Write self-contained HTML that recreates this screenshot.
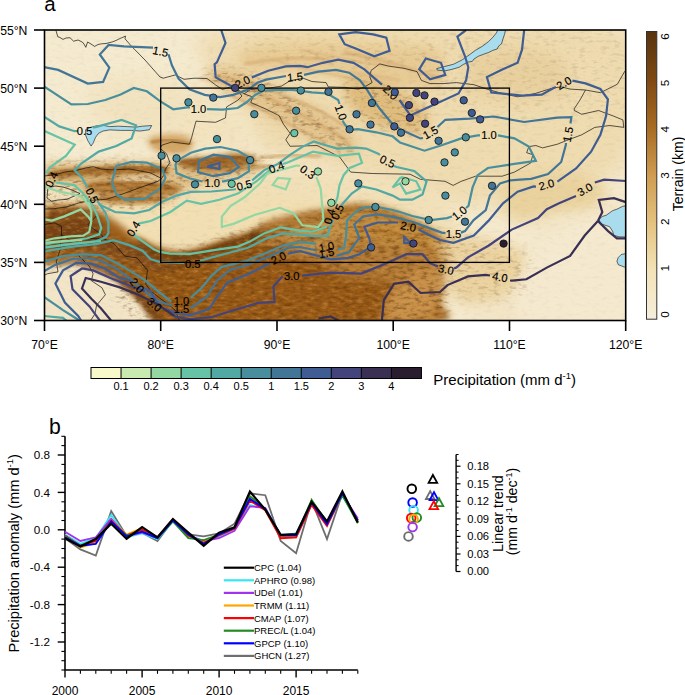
<!DOCTYPE html>
<html><head><meta charset="utf-8"><style>html,body{margin:0;padding:0;background:#fff;}svg{display:block;}</style></head>
<body><svg width="685" height="695" viewBox="0 0 685 695">
<rect width="685" height="695" fill="#fff"/>
<clipPath id="mc"><rect x="44.5" y="30.0" width="581.2" height="290.5"/></clipPath>
<defs><filter id="b1_2" x="-20%" y="-20%" width="140%" height="140%"><feGaussianBlur stdDeviation="1.2"/></filter><filter id="b1_5" x="-20%" y="-20%" width="140%" height="140%"><feGaussianBlur stdDeviation="1.5"/></filter><filter id="b2_5" x="-20%" y="-20%" width="140%" height="140%"><feGaussianBlur stdDeviation="2.5"/></filter><filter id="b3" x="-20%" y="-20%" width="140%" height="140%"><feGaussianBlur stdDeviation="3"/></filter><filter id="b3_5" x="-20%" y="-20%" width="140%" height="140%"><feGaussianBlur stdDeviation="3.5"/></filter><filter id="b4" x="-20%" y="-20%" width="140%" height="140%"><feGaussianBlur stdDeviation="4"/></filter><filter id="b5" x="-20%" y="-20%" width="140%" height="140%"><feGaussianBlur stdDeviation="5"/></filter><filter id="b6" x="-20%" y="-20%" width="140%" height="140%"><feGaussianBlur stdDeviation="6"/></filter><filter id="b7" x="-20%" y="-20%" width="140%" height="140%"><feGaussianBlur stdDeviation="7"/></filter><filter id="b8" x="-20%" y="-20%" width="140%" height="140%"><feGaussianBlur stdDeviation="8"/></filter><filter id="b10" x="-20%" y="-20%" width="140%" height="140%"><feGaussianBlur stdDeviation="10"/></filter><filter id="b12" x="-20%" y="-20%" width="140%" height="140%"><feGaussianBlur stdDeviation="12"/></filter><filter id="tex" x="0" y="0" width="100%" height="100%" color-interpolation-filters="sRGB"><feTurbulence type="fractalNoise" baseFrequency="0.14 0.3" numOctaves="3" seed="11" result="n"/><feColorMatrix in="n" type="matrix" values="0 0 0 0 0.36  0 0 0 0 0.20  0 0 0 0 0.04  1.7 0 0 0 -0.84" result="dk"/><feColorMatrix in="n" type="matrix" values="0 0 0 0 0.86  0 0 0 0 0.66  0 0 0 0 0.36  -1.4 0 0 0 0.63" result="lt"/><feMerge result="m"><feMergeNode in="lt"/><feMergeNode in="dk"/></feMerge><feComposite in="m" in2="SourceGraphic" operator="in"/></filter></defs>
<g clip-path="url(#mc)">
<rect x="44.5" y="30.0" width="581.2" height="290.5" fill="#f5ebd0"/>
<path d="M225.0,30.0 C291.3,20.8 559.2,8.3 626.0,30.0 C692.8,51.7 632.0,135.0 626.0,160.0 C620.0,185.0 603.5,174.2 590.0,180.0 C576.5,185.8 560.0,190.8 545.0,195.0 C530.0,199.2 515.0,203.3 500.0,205.0 C485.0,206.7 470.0,207.2 455.0,205.0 C440.0,202.8 424.2,196.2 410.0,192.0 C395.8,187.8 383.3,183.7 370.0,180.0 C356.7,176.3 343.3,173.3 330.0,170.0 C316.7,166.7 301.3,163.3 290.0,160.0 C278.7,156.7 269.5,156.7 262.0,150.0 C254.5,143.3 250.7,130.8 245.0,120.0 C239.3,109.2 231.3,100.0 228.0,85.0 C224.7,70.0 158.7,39.2 225.0,30.0 Z" fill="#efdcb1" fill-opacity="1" filter="url(#b10)"/>
<path d="M90.0,85.0 C100.0,77.5 140.0,79.2 160.0,80.0 C180.0,80.8 198.3,83.3 210.0,90.0 C221.7,96.7 231.7,111.7 230.0,120.0 C228.3,128.3 213.3,136.7 200.0,140.0 C186.7,143.3 166.7,142.5 150.0,140.0 C133.3,137.5 110.0,134.2 100.0,125.0 C90.0,115.8 80.0,92.5 90.0,85.0 Z" fill="#f2e3c0" fill-opacity="1" filter="url(#b12)"/>
<path d="M100.0,185.0 C109.2,175.0 138.3,177.2 160.0,175.0 C181.7,172.8 206.7,172.8 230.0,172.0 C253.3,171.2 278.3,169.0 300.0,170.0 C321.7,171.0 340.0,174.7 360.0,178.0 C380.0,181.3 405.0,184.7 420.0,190.0 C435.0,195.3 444.2,201.7 450.0,210.0 C455.8,218.3 460.0,233.3 455.0,240.0 C450.0,246.7 440.8,250.0 420.0,250.0 C399.2,250.0 358.3,240.0 330.0,240.0 C301.7,240.0 280.0,248.3 250.0,250.0 C220.0,251.7 174.2,252.5 150.0,250.0 C125.8,247.5 113.3,245.8 105.0,235.0 C96.7,224.2 90.8,195.0 100.0,185.0 Z" fill="#f1e0b8" fill-opacity="1" filter="url(#b8)"/>
<path d="M104.0,206.0 C104.3,204.5 104.3,204.2 112.0,203.0 C119.7,201.8 135.3,200.0 150.0,199.0 C164.7,198.0 183.3,196.8 200.0,197.0 C216.7,197.2 235.0,199.8 250.0,200.0 C265.0,200.2 278.3,197.3 290.0,198.0 C301.7,198.7 318.3,201.2 320.0,204.0 C321.7,206.8 307.5,212.2 300.0,215.0 C292.5,217.8 283.0,218.8 275.0,221.0 C267.0,223.2 259.8,225.8 252.0,228.0 C244.2,230.2 236.7,231.3 228.0,234.0 C219.3,236.7 208.7,241.8 200.0,244.0 C191.3,246.2 183.5,247.2 176.0,247.0 C168.5,246.8 161.7,245.2 155.0,243.0 C148.3,240.8 141.5,237.5 136.0,234.0 C130.5,230.5 126.3,225.7 122.0,222.0 C117.7,218.3 113.0,214.7 110.0,212.0 C107.0,209.3 103.7,207.5 104.0,206.0 Z" fill="#f2e0b4" fill-opacity="1" filter="url(#b5)"/>
<path d="M180.0,110.0 C187.2,106.2 204.2,102.5 215.0,105.0 C225.8,107.5 239.2,117.8 245.0,125.0 C250.8,132.2 254.2,143.8 250.0,148.0 C245.8,152.2 230.8,150.5 220.0,150.0 C209.2,149.5 193.0,148.7 185.0,145.0 C177.0,141.3 172.8,133.8 172.0,128.0 C171.2,122.2 172.8,113.8 180.0,110.0 Z" fill="#f3e4c0" fill-opacity="1" filter="url(#b8)"/>
<path d="M255.0,38.0 C261.3,34.3 282.5,34.3 300.0,34.0 C317.5,33.7 340.0,34.3 360.0,36.0 C380.0,37.7 408.3,40.3 420.0,44.0 C431.7,47.7 433.3,54.3 430.0,58.0 C426.7,61.7 413.3,64.7 400.0,66.0 C386.7,67.3 366.7,66.3 350.0,66.0 C333.3,65.7 314.7,65.7 300.0,64.0 C285.3,62.3 269.5,60.3 262.0,56.0 C254.5,51.7 248.7,41.7 255.0,38.0 Z" fill="#ecd6a4" fill-opacity="0.9" filter="url(#b8)"/>
<path d="M240.0,52.0 C246.7,48.0 273.3,47.3 290.0,46.0 C306.7,44.7 323.3,44.0 340.0,44.0 C356.7,44.0 373.3,44.7 390.0,46.0 C406.7,47.3 431.7,45.3 440.0,52.0 C448.3,58.7 446.7,80.0 440.0,86.0 C433.3,92.0 413.3,88.3 400.0,88.0 C386.7,87.7 371.7,86.0 360.0,84.0 C348.3,82.0 341.7,78.0 330.0,76.0 C318.3,74.0 303.3,73.0 290.0,72.0 C276.7,71.0 258.3,73.3 250.0,70.0 C241.7,66.7 233.3,56.0 240.0,52.0 Z" fill="#e8cc96" fill-opacity="1" filter="url(#b5)"/>
<path d="M205.0,72.0 C206.2,68.3 217.5,65.5 225.0,66.0 C232.5,66.5 241.7,71.3 250.0,75.0 C258.3,78.7 266.7,83.8 275.0,88.0 C283.3,92.2 291.7,96.0 300.0,100.0 C308.3,104.0 317.5,107.8 325.0,112.0 C332.5,116.2 339.8,120.3 345.0,125.0 C350.2,129.7 354.2,135.0 356.0,140.0 C357.8,145.0 359.5,153.0 356.0,155.0 C352.5,157.0 342.7,154.5 335.0,152.0 C327.3,149.5 318.3,144.5 310.0,140.0 C301.7,135.5 293.0,129.7 285.0,125.0 C277.0,120.3 269.5,116.2 262.0,112.0 C254.5,107.8 247.3,104.0 240.0,100.0 C232.7,96.0 223.8,92.7 218.0,88.0 C212.2,83.3 203.8,75.7 205.0,72.0 Z" fill="#e4c690" fill-opacity="1" filter="url(#b6)"/>
<path d="M470.0,55.0 C478.3,48.0 505.0,47.2 520.0,48.0 C535.0,48.8 551.7,53.8 560.0,60.0 C568.3,66.2 573.3,78.3 570.0,85.0 C566.7,91.7 551.7,97.5 540.0,100.0 C528.3,102.5 511.7,101.7 500.0,100.0 C488.3,98.3 475.0,97.5 470.0,90.0 C465.0,82.5 461.7,62.0 470.0,55.0 Z" fill="#e9d1a0" fill-opacity="1" filter="url(#b8)"/>
<path d="M345.0,82.0 C350.0,78.3 367.5,77.8 378.0,80.0 C388.5,82.2 399.7,89.0 408.0,95.0 C416.3,101.0 426.0,109.5 428.0,116.0 C430.0,122.5 426.0,131.7 420.0,134.0 C414.0,136.3 401.0,132.3 392.0,130.0 C383.0,127.7 373.3,124.7 366.0,120.0 C358.7,115.3 351.5,108.3 348.0,102.0 C344.5,95.7 340.0,85.7 345.0,82.0 Z" fill="#e0be80" fill-opacity="1" filter="url(#b6)"/>
<path d="M150.0,138.0 C153.8,135.7 168.0,133.7 175.0,134.0 C182.0,134.3 189.8,137.0 192.0,140.0 C194.2,143.0 192.0,149.7 188.0,152.0 C184.0,154.3 174.0,154.7 168.0,154.0 C162.0,153.3 155.0,150.7 152.0,148.0 C149.0,145.3 146.2,140.3 150.0,138.0 Z" fill="#d2a666" fill-opacity="1" filter="url(#b3)"/>
<path d="M44.0,166.0 C50.0,157.8 67.3,163.8 80.0,163.0 C92.7,162.2 106.7,161.3 120.0,161.0 C133.3,160.7 146.7,161.2 160.0,161.0 C173.3,160.8 187.5,161.2 200.0,160.0 C212.5,158.8 225.3,154.3 235.0,154.0 C244.7,153.7 253.5,155.3 258.0,158.0 C262.5,160.7 265.8,166.7 262.0,170.0 C258.2,173.3 244.5,175.7 235.0,178.0 C225.5,180.3 214.2,181.7 205.0,184.0 C195.8,186.3 186.2,189.0 180.0,192.0 C173.8,195.0 174.7,200.2 168.0,202.0 C161.3,203.8 149.7,202.8 140.0,203.0 C130.3,203.2 120.0,202.3 110.0,203.0 C100.0,203.7 91.0,205.5 80.0,207.0 C69.0,208.5 50.0,218.8 44.0,212.0 C38.0,205.2 38.0,174.2 44.0,166.0 Z" fill="#e0c28c" fill-opacity="1" filter="url(#b4)"/>
<path d="M52.0,171.0 C57.8,169.3 77.0,168.8 90.0,168.0 C103.0,167.2 117.5,166.2 130.0,166.0 C142.5,165.8 159.2,165.7 165.0,167.0 C170.8,168.3 170.8,172.5 165.0,174.0 C159.2,175.5 142.5,175.7 130.0,176.0 C117.5,176.3 102.5,175.7 90.0,176.0 C77.5,176.3 61.3,178.8 55.0,178.0 C48.7,177.2 46.2,172.7 52.0,171.0 Z" fill="#a8712f" fill-opacity="1" filter="url(#b2_5)"/>
<path d="M85.0,184.0 C88.3,181.7 107.5,180.3 120.0,180.0 C132.5,179.7 149.7,180.7 160.0,182.0 C170.3,183.3 181.2,185.7 182.0,188.0 C182.8,190.3 173.7,194.7 165.0,196.0 C156.3,197.3 140.8,196.3 130.0,196.0 C119.2,195.7 107.5,196.0 100.0,194.0 C92.5,192.0 81.7,186.3 85.0,184.0 Z" fill="#b07a38" fill-opacity="1" filter="url(#b2_5)"/>
<path d="M180.0,160.0 C184.2,158.2 200.0,158.0 210.0,157.0 C220.0,156.0 232.3,153.5 240.0,154.0 C247.7,154.5 256.0,157.7 256.0,160.0 C256.0,162.3 247.7,166.3 240.0,168.0 C232.3,169.7 219.2,170.0 210.0,170.0 C200.8,170.0 190.0,169.7 185.0,168.0 C180.0,166.3 175.8,161.8 180.0,160.0 Z" fill="#a06a2c" fill-opacity="1" filter="url(#b2_5)"/>
<path d="M100.0,196.0 C105.0,194.7 129.2,194.7 140.0,195.0 C150.8,195.3 163.3,196.7 165.0,198.0 C166.7,199.3 159.2,202.2 150.0,203.0 C140.8,203.8 118.3,204.2 110.0,203.0 C101.7,201.8 95.0,197.3 100.0,196.0 Z" fill="#b5803e" fill-opacity="1" filter="url(#b2_5)"/>
<path d="M120.0,177.0 C124.7,176.0 143.7,174.7 150.0,175.0 C156.3,175.3 159.7,178.0 158.0,179.0 C156.3,180.0 146.0,180.7 140.0,181.0 C134.0,181.3 125.3,181.7 122.0,181.0 C118.7,180.3 115.3,178.0 120.0,177.0 Z" fill="#efdcb6" fill-opacity="1" filter="url(#b3)"/>
<path d="M44.0,187.0 C47.7,184.3 59.7,185.0 66.0,186.0 C72.3,187.0 80.3,190.5 82.0,193.0 C83.7,195.5 80.3,199.3 76.0,201.0 C71.7,202.7 61.3,202.8 56.0,203.0 C50.7,203.2 46.0,204.7 44.0,202.0 C42.0,199.3 40.3,189.7 44.0,187.0 Z" fill="#f2e4c2" fill-opacity="1" filter="url(#b3)"/>
<path d="M44.0,212.0 C50.0,202.5 71.0,207.2 80.0,207.0 C89.0,206.8 93.0,209.2 98.0,211.0 C103.0,212.8 106.0,215.5 110.0,218.0 C114.0,220.5 118.3,223.2 122.0,226.0 C125.7,228.8 127.7,232.2 132.0,235.0 C136.3,237.8 143.0,240.8 148.0,243.0 C153.0,245.2 156.5,246.5 162.0,248.0 C167.5,249.5 174.5,252.0 181.0,252.0 C187.5,252.0 194.2,249.8 201.0,248.0 C207.8,246.2 215.2,243.2 222.0,241.0 C228.8,238.8 235.3,237.3 242.0,235.0 C248.7,232.7 255.5,229.5 262.0,227.0 C268.5,224.5 273.3,222.3 281.0,220.0 C288.7,217.7 299.8,214.7 308.0,213.0 C316.2,211.3 323.8,211.2 330.0,210.0 C336.2,208.8 339.2,206.8 345.0,206.0 C350.8,205.2 358.3,204.5 365.0,205.0 C371.7,205.5 378.8,207.3 385.0,209.0 C391.2,210.7 395.8,212.3 402.0,215.0 C408.2,217.7 415.3,221.2 422.0,225.0 C428.7,228.8 436.5,233.8 442.0,238.0 C447.5,242.2 455.3,244.7 455.0,250.0 C454.7,255.3 441.8,264.7 440.0,270.0 C438.2,275.3 444.3,276.7 444.0,282.0 C443.7,287.3 441.0,295.3 438.0,302.0 C435.0,308.7 473.7,318.7 426.0,322.0 C378.3,325.3 199.3,324.8 152.0,322.0 C104.7,319.2 146.0,310.7 142.0,305.0 C138.0,299.3 133.3,293.2 128.0,288.0 C122.7,282.8 116.3,277.8 110.0,274.0 C103.7,270.2 96.7,267.2 90.0,265.0 C83.3,262.8 77.7,261.2 70.0,261.0 C62.3,260.8 48.3,272.2 44.0,264.0 C39.7,255.8 38.0,221.5 44.0,212.0 Z" fill="#a0621f" fill-opacity="1" filter="url(#b3_5)"/>
<path d="M120.0,260.0 C123.3,254.5 151.7,263.3 170.0,262.0 C188.3,260.7 208.3,255.7 230.0,252.0 C251.7,248.3 280.0,241.2 300.0,240.0 C320.0,238.8 333.3,241.3 350.0,245.0 C366.7,248.7 387.5,254.5 400.0,262.0 C412.5,269.5 422.5,280.0 425.0,290.0 C427.5,300.0 457.5,316.7 415.0,322.0 C372.5,327.3 214.2,326.5 170.0,322.0 C125.8,317.5 158.3,305.3 150.0,295.0 C141.7,284.7 116.7,265.5 120.0,260.0 Z" fill="#985a19" fill-opacity="1" filter="url(#b6)"/>
<path d="M138.0,238.0 C140.5,237.3 152.8,249.5 160.0,252.0 C167.2,254.5 174.2,253.5 181.0,253.0 C187.8,252.5 194.2,250.8 201.0,249.0 C207.8,247.2 215.2,244.2 222.0,242.0 C228.8,239.8 235.3,238.3 242.0,236.0 C248.7,233.7 257.0,229.7 262.0,228.0 C267.0,226.3 270.0,225.0 272.0,226.0 C274.0,227.0 276.8,231.3 274.0,234.0 C271.2,236.7 262.7,239.2 255.0,242.0 C247.3,244.8 237.2,248.2 228.0,251.0 C218.8,253.8 208.8,256.8 200.0,259.0 C191.2,261.2 184.2,264.5 175.0,264.0 C165.8,263.5 151.2,260.3 145.0,256.0 C138.8,251.7 135.5,238.7 138.0,238.0 Z" fill="#7e4814" fill-opacity="1" filter="url(#b2_5)"/>
<path d="M262.0,226.0 C265.3,221.0 280.3,220.3 290.0,218.0 C299.7,215.7 310.0,213.3 320.0,212.0 C330.0,210.7 341.3,209.3 350.0,210.0 C358.7,210.7 367.0,211.7 372.0,216.0 C377.0,220.3 381.2,229.3 380.0,236.0 C378.8,242.7 373.3,251.7 365.0,256.0 C356.7,260.3 341.7,261.7 330.0,262.0 C318.3,262.3 305.0,260.3 295.0,258.0 C285.0,255.7 275.5,253.3 270.0,248.0 C264.5,242.7 258.7,231.0 262.0,226.0 Z" fill="#b07834" fill-opacity="1" filter="url(#b4)"/>
<path d="M292.0,228.0 C297.3,224.7 310.3,221.8 320.0,220.0 C329.7,218.2 342.0,216.3 350.0,217.0 C358.0,217.7 364.3,220.2 368.0,224.0 C371.7,227.8 373.3,235.0 372.0,240.0 C370.7,245.0 367.0,251.0 360.0,254.0 C353.0,257.0 339.7,258.3 330.0,258.0 C320.3,257.7 309.0,255.0 302.0,252.0 C295.0,249.0 289.7,244.0 288.0,240.0 C286.3,236.0 286.7,231.3 292.0,228.0 Z" fill="#c49248" fill-opacity="1" filter="url(#b5)"/>
<path d="M345.0,212.0 C348.0,206.7 360.8,207.3 370.0,208.0 C379.2,208.7 390.0,212.3 400.0,216.0 C410.0,219.7 420.8,225.0 430.0,230.0 C439.2,235.0 451.7,240.7 455.0,246.0 C458.3,251.3 455.8,259.3 450.0,262.0 C444.2,264.7 430.0,262.0 420.0,262.0 C410.0,262.0 399.2,262.3 390.0,262.0 C380.8,261.7 371.3,263.7 365.0,260.0 C358.7,256.3 355.3,248.0 352.0,240.0 C348.7,232.0 342.0,217.3 345.0,212.0 Z" fill="#c08a3e" fill-opacity="1" filter="url(#b4)"/>
<path d="M50.0,212.0 C55.0,206.0 72.0,209.3 80.0,210.0 C88.0,210.7 93.3,212.3 98.0,216.0 C102.7,219.7 105.7,228.0 108.0,232.0 C110.3,236.0 106.7,237.7 112.0,240.0 C117.3,242.3 132.0,243.3 140.0,246.0 C148.0,248.7 154.2,252.7 160.0,256.0 C165.8,259.3 175.0,263.3 175.0,266.0 C175.0,268.7 167.5,272.7 160.0,272.0 C152.5,271.3 140.0,265.0 130.0,262.0 C120.0,259.0 109.2,256.3 100.0,254.0 C90.8,251.7 83.3,249.3 75.0,248.0 C66.7,246.7 54.2,252.0 50.0,246.0 C45.8,240.0 45.0,218.0 50.0,212.0 Z" fill="#86501a" fill-opacity="1" filter="url(#b3)"/>
<path d="M44.0,228.0 C47.3,224.7 62.3,224.3 70.0,224.0 C77.7,223.7 85.0,223.3 90.0,226.0 C95.0,228.7 101.7,236.7 100.0,240.0 C98.3,243.3 88.3,245.3 80.0,246.0 C71.7,246.7 56.0,247.0 50.0,244.0 C44.0,241.0 40.7,231.3 44.0,228.0 Z" fill="#7a4515" fill-opacity="1" filter="url(#b3)"/>
<path d="M60.0,262.0 C63.8,260.7 77.5,261.0 85.0,262.0 C92.5,263.0 98.3,265.0 105.0,268.0 C111.7,271.0 119.2,276.0 125.0,280.0 C130.8,284.0 135.5,287.8 140.0,292.0 C144.5,296.2 147.8,300.0 152.0,305.0 C156.2,310.0 165.3,319.2 165.0,322.0 C164.7,324.8 154.5,324.3 150.0,322.0 C145.5,319.7 142.7,313.0 138.0,308.0 C133.3,303.0 127.5,296.7 122.0,292.0 C116.5,287.3 111.2,283.3 105.0,280.0 C98.8,276.7 92.2,273.7 85.0,272.0 C77.8,270.3 66.2,271.7 62.0,270.0 C57.8,268.3 56.2,263.3 60.0,262.0 Z" fill="#7e4a16" fill-opacity="1" filter="url(#b2_5)"/>
<path d="M320.0,245.0 C323.3,239.2 346.7,240.0 360.0,240.0 C373.3,240.0 386.7,242.5 400.0,245.0 C413.3,247.5 431.7,250.0 440.0,255.0 C448.3,260.0 453.3,270.0 450.0,275.0 C446.7,280.0 431.7,284.2 420.0,285.0 C408.3,285.8 393.3,281.7 380.0,280.0 C366.7,278.3 350.0,280.8 340.0,275.0 C330.0,269.2 316.7,250.8 320.0,245.0 Z" fill="#b27a36" fill-opacity="1" filter="url(#b6)"/>
<path d="M395.0,285.0 C402.5,276.3 421.7,270.0 430.0,270.0 C438.3,270.0 443.7,279.2 445.0,285.0 C446.3,290.8 440.8,298.8 438.0,305.0 C435.2,311.2 436.8,319.2 428.0,322.0 C419.2,324.8 390.5,328.2 385.0,322.0 C379.5,315.8 387.5,293.7 395.0,285.0 Z" fill="#c89048" fill-opacity="1" filter="url(#b6)"/>
<path d="M30.0,272.0 C34.0,261.5 47.0,268.3 54.0,267.0 C61.0,265.7 66.0,263.8 72.0,264.0 C78.0,264.2 83.7,265.8 90.0,268.0 C96.3,270.2 104.0,273.3 110.0,277.0 C116.0,280.7 121.3,285.8 126.0,290.0 C130.7,294.2 134.3,297.7 138.0,302.0 C141.7,306.3 145.7,311.3 148.0,316.0 C150.3,320.7 171.7,327.7 152.0,330.0 C132.3,332.3 50.3,339.7 30.0,330.0 C9.7,320.3 26.0,282.5 30.0,272.0 Z" fill="#f3e6c8" fill-opacity="1" filter="url(#b2_5)"/>
<path d="M440.0,235.0 C445.8,231.3 466.7,235.5 480.0,238.0 C493.3,240.5 510.8,243.8 520.0,250.0 C529.2,256.2 535.8,266.7 535.0,275.0 C534.2,283.3 525.8,295.0 515.0,300.0 C504.2,305.0 481.2,306.7 470.0,305.0 C458.8,303.3 452.2,297.5 448.0,290.0 C443.8,282.5 446.3,269.2 445.0,260.0 C443.7,250.8 434.2,238.7 440.0,235.0 Z" fill="#ecd4a2" fill-opacity="1" filter="url(#b7)"/>
<path d="M505.0,180.0 C510.8,172.8 528.3,173.3 540.0,172.0 C551.7,170.7 565.0,170.7 575.0,172.0 C585.0,173.3 594.8,176.2 600.0,180.0 C605.2,183.8 607.3,190.0 606.0,195.0 C604.7,200.0 599.7,206.5 592.0,210.0 C584.3,213.5 570.3,214.0 560.0,216.0 C549.7,218.0 539.2,222.2 530.0,222.0 C520.8,221.8 509.2,222.0 505.0,215.0 C500.8,208.0 499.2,187.2 505.0,180.0 Z" fill="#ead39f" fill-opacity="1" filter="url(#b7)"/>
<path d="M540.0,225.0 C550.8,215.3 585.7,215.3 600.0,212.0 C614.3,208.7 621.7,186.7 626.0,205.0 C630.3,223.3 652.0,302.5 626.0,322.0 C600.0,341.5 491.0,325.7 470.0,322.0 C449.0,318.3 489.2,308.7 500.0,300.0 C510.8,291.3 528.3,282.5 535.0,270.0 C541.7,257.5 529.2,234.7 540.0,225.0 Z" fill="#f3e5c6" fill-opacity="1" filter="url(#b8)"/>
<path d="M540.0,240.0 C557.7,223.8 611.7,211.3 626.0,225.0 C640.3,238.7 643.7,305.8 626.0,322.0 C608.3,338.2 534.3,335.7 520.0,322.0 C505.7,308.3 522.3,256.2 540.0,240.0 Z" fill="#f5ead0" fill-opacity="1" filter="url(#b6)"/>
<path d="M214.0,76.0 C217.5,76.7 227.7,77.3 235.0,80.0 C242.3,82.7 250.5,88.0 258.0,92.0 C265.5,96.0 273.0,100.3 280.0,104.0 C287.0,107.7 293.0,110.3 300.0,114.0 C307.0,117.7 315.0,122.0 322.0,126.0 C329.0,130.0 337.0,134.0 342.0,138.0 C347.0,142.0 350.3,148.0 352.0,150.0" fill="none" stroke="#c8955a" stroke-width="3" stroke-opacity="0.6" stroke-linecap="round" filter="url(#b1_5)"/>
<path d="M232.0,96.0 C235.8,97.7 247.3,102.3 255.0,106.0 C262.7,109.7 270.5,114.0 278.0,118.0 C285.5,122.0 292.2,126.0 300.0,130.0 C307.8,134.0 320.8,140.0 325.0,142.0" fill="none" stroke="#c8955a" stroke-width="2.5" stroke-opacity="0.55" stroke-linecap="round" filter="url(#b1_2)"/>
<path d="M250.0,82.0 C254.2,83.7 266.7,88.7 275.0,92.0 C283.3,95.3 291.7,98.3 300.0,102.0 C308.3,105.7 317.5,110.0 325.0,114.0 C332.5,118.0 341.7,124.0 345.0,126.0" fill="none" stroke="#c8955a" stroke-width="2.5" stroke-opacity="0.55" stroke-linecap="round" filter="url(#b1_2)"/>
<path d="M280.0,62.0 C285.0,63.3 300.0,67.7 310.0,70.0 C320.0,72.3 330.0,73.7 340.0,76.0 C350.0,78.3 365.0,82.7 370.0,84.0" fill="none" stroke="#d0a066" stroke-width="2" stroke-opacity="0.5" stroke-linecap="round" filter="url(#b1_2)"/>
<path d="M300.0,50.0 C305.0,51.0 320.0,54.0 330.0,56.0 C340.0,58.0 350.0,60.3 360.0,62.0 C370.0,63.7 385.0,65.3 390.0,66.0" fill="none" stroke="#d0a066" stroke-width="2" stroke-opacity="0.45" stroke-linecap="round" filter="url(#b1_2)"/>
<path d="M200.0,78.0 C203.3,78.7 213.3,80.7 220.0,82.0 C226.7,83.3 236.7,85.3 240.0,86.0" fill="none" stroke="#cfa068" stroke-width="2.5" stroke-opacity="0.5" stroke-linecap="round" filter="url(#b1_5)"/>
<path d="M245.0,64.0 C249.2,63.3 260.8,61.0 270.0,60.0 C279.2,59.0 290.0,58.0 300.0,58.0 C310.0,58.0 325.0,59.7 330.0,60.0" fill="none" stroke="#c9985a" stroke-width="2.5" stroke-opacity="0.6" stroke-linecap="round" filter="url(#b1_5)"/>
<path d="M345.0,52.0 C349.2,53.0 361.7,56.0 370.0,58.0 C378.3,60.0 386.7,61.7 395.0,64.0 C403.3,66.3 412.5,69.7 420.0,72.0 C427.5,74.3 436.7,77.0 440.0,78.0" fill="none" stroke="#c9985a" stroke-width="2.5" stroke-opacity="0.6" stroke-linecap="round" filter="url(#b1_5)"/>
<path d="M350.0,72.0 C354.2,72.7 366.7,74.7 375.0,76.0 C383.3,77.3 395.8,79.3 400.0,80.0" fill="none" stroke="#cfa064" stroke-width="2" stroke-opacity="0.5" stroke-linecap="round" filter="url(#b1_5)"/>
<path d="M50.0,174.0 C55.0,173.5 70.0,171.8 80.0,171.0 C90.0,170.2 100.0,169.5 110.0,169.0 C120.0,168.5 130.8,167.8 140.0,168.0 C149.2,168.2 160.8,169.7 165.0,170.0" fill="none" stroke="#9a6226" stroke-width="4" stroke-opacity="0.9" stroke-linecap="round" filter="url(#b1_2)"/>
<path d="M90.0,186.0 C95.0,185.5 110.0,183.3 120.0,183.0 C130.0,182.7 140.8,182.8 150.0,184.0 C159.2,185.2 170.8,189.0 175.0,190.0" fill="none" stroke="#a56c2c" stroke-width="3" stroke-opacity="0.8" stroke-linecap="round" filter="url(#b1_2)"/>
<path d="M100.0,199.0 C105.0,198.8 120.0,197.8 130.0,198.0 C140.0,198.2 155.0,199.7 160.0,200.0" fill="none" stroke="#a56c2c" stroke-width="3" stroke-opacity="0.8" stroke-linecap="round" filter="url(#b1_2)"/>
<path d="M182.0,162.0 C185.8,161.7 197.0,160.8 205.0,160.0 C213.0,159.2 222.2,157.0 230.0,157.0 C237.8,157.0 248.3,159.5 252.0,160.0" fill="none" stroke="#96602a" stroke-width="4" stroke-opacity="0.9" stroke-linecap="round" filter="url(#b1_2)"/>
<path d="M200.0,172.0 C204.2,171.7 216.7,170.7 225.0,170.0 C233.3,169.3 242.5,168.7 250.0,168.0 C257.5,167.3 266.7,166.3 270.0,166.0" fill="none" stroke="#b07a38" stroke-width="3" stroke-opacity="0.7" stroke-linecap="round" filter="url(#b1_5)"/>
<path d="M260.0,158.0 C265.0,157.5 280.0,155.3 290.0,155.0 C300.0,154.7 315.0,155.8 320.0,156.0" fill="none" stroke="#b98646" stroke-width="3" stroke-opacity="0.6" stroke-linecap="round" filter="url(#b1_5)"/>
<path d="M150.0,252.0 C155.0,252.8 170.0,257.3 180.0,257.0 C190.0,256.7 200.0,252.8 210.0,250.0 C220.0,247.2 230.3,243.0 240.0,240.0 C249.7,237.0 263.3,233.3 268.0,232.0" fill="none" stroke="#6e4010" stroke-width="3" stroke-opacity="0.8" stroke-linecap="round" filter="url(#b1_2)"/>
<path d="M268.0,232.0 C273.3,230.7 289.7,226.3 300.0,224.0 C310.3,221.7 325.0,219.0 330.0,218.0" fill="none" stroke="#9a6020" stroke-width="2.5" stroke-opacity="0.6" stroke-linecap="round" filter="url(#b1_5)"/>
<path d="M160.0,268.0 C166.7,267.3 186.7,266.0 200.0,264.0 C213.3,262.0 226.7,259.0 240.0,256.0 C253.3,253.0 266.7,249.0 280.0,246.0 C293.3,243.0 313.3,239.3 320.0,238.0" fill="none" stroke="#7a4612" stroke-width="3" stroke-opacity="0.7" stroke-linecap="round" filter="url(#b1_5)"/>
<path d="M345.0,210.0 C349.2,210.3 361.7,210.7 370.0,212.0 C378.3,213.3 386.7,215.3 395.0,218.0 C403.3,220.7 411.7,224.0 420.0,228.0 C428.3,232.0 440.8,239.7 445.0,242.0" fill="none" stroke="#a86a24" stroke-width="3" stroke-opacity="0.8" stroke-linecap="round" filter="url(#b1_5)"/>
<path d="M360.0,228.0 C364.2,228.7 376.7,230.0 385.0,232.0 C393.3,234.0 401.7,236.7 410.0,240.0 C418.3,243.3 430.8,250.0 435.0,252.0" fill="none" stroke="#a86a24" stroke-width="3" stroke-opacity="0.7" stroke-linecap="round" filter="url(#b1_5)"/>
<path d="M152.0,142.0 C155.0,141.7 163.7,139.7 170.0,140.0 C176.3,140.3 186.7,143.3 190.0,144.0" fill="none" stroke="#b07a38" stroke-width="3" stroke-opacity="0.8" stroke-linecap="round" filter="url(#b1_2)"/>
<g filter="url(#tex)">
<path d="M44.0,30.0 C141.0,-18.7 529.0,-18.7 626.0,30.0 C723.0,78.7 723.0,273.3 626.0,322.0 C529.0,370.7 141.0,370.7 44.0,322.0 C-53.0,273.3 -53.0,78.7 44.0,30.0 Z" fill="#000" fill-opacity="0.07" filter="url(#b8)"/>
<path d="M440.0,30.0 C471.0,16.7 595.0,16.7 626.0,30.0 C657.0,43.3 657.0,96.7 626.0,110.0 C595.0,123.3 471.0,123.3 440.0,110.0 C409.0,96.7 409.0,43.3 440.0,30.0 Z" fill="#000" fill-opacity="0.15" filter="url(#b10)"/>
<path d="M44.0,212.0 C50.0,202.7 68.7,204.0 80.0,208.0 C91.3,212.0 96.0,229.2 112.0,236.0 C128.0,242.8 152.2,250.7 176.0,249.0 C199.8,247.3 229.3,232.5 255.0,226.0 C280.7,219.5 311.7,213.5 330.0,210.0 C348.3,206.5 349.7,202.5 365.0,205.0 C380.3,207.5 407.0,217.5 422.0,225.0 C437.0,232.5 452.0,242.5 455.0,250.0 C458.0,257.5 444.8,258.0 440.0,270.0 C435.2,282.0 474.0,313.3 426.0,322.0 C378.0,330.7 204.7,330.0 152.0,322.0 C99.3,314.0 128.0,283.7 110.0,274.0 C92.0,264.3 55.0,274.3 44.0,264.0 C33.0,253.7 38.0,221.3 44.0,212.0 Z" fill="#000" fill-opacity="0.9" filter="url(#b4)"/>
<path d="M44.0,166.0 C63.3,157.5 124.3,162.3 160.0,161.0 C195.7,159.7 241.0,156.5 258.0,158.0 C275.0,159.5 275.0,164.3 262.0,170.0 C249.0,175.7 195.7,186.2 180.0,192.0 C164.3,197.8 190.7,201.7 168.0,205.0 C145.3,208.3 64.7,218.5 44.0,212.0 C23.3,205.5 24.7,174.5 44.0,166.0 Z" fill="#000" fill-opacity="0.8" filter="url(#b4)"/>
<path d="M208.0,68.0 C214.8,67.0 237.2,68.7 255.0,76.0 C272.8,83.3 299.2,101.0 315.0,112.0 C330.8,123.0 345.8,135.3 350.0,142.0 C354.2,148.7 354.7,157.7 340.0,152.0 C325.3,146.3 283.0,119.7 262.0,108.0 C241.0,96.3 223.0,88.7 214.0,82.0 C205.0,75.3 201.2,69.0 208.0,68.0 Z" fill="#000" fill-opacity="0.7" filter="url(#b4)"/>
<path d="M255.0,38.0 C281.3,36.0 390.8,40.7 420.0,44.0 C449.2,47.3 441.7,54.3 430.0,58.0 C418.3,61.7 378.0,66.3 350.0,66.0 C322.0,65.7 277.8,60.7 262.0,56.0 C246.2,51.3 228.7,40.0 255.0,38.0 Z" fill="#000" fill-opacity="0.2" filter="url(#b6)"/>
<path d="M345.0,82.0 C352.0,77.8 394.2,89.3 408.0,95.0 C421.8,100.7 426.0,109.5 428.0,116.0 C430.0,122.5 430.3,133.3 420.0,134.0 C409.7,134.7 378.5,128.7 366.0,120.0 C353.5,111.3 338.0,86.2 345.0,82.0 Z" fill="#000" fill-opacity="0.6" filter="url(#b6)"/>
<path d="M440.0,235.0 C452.0,228.3 504.2,243.3 520.0,250.0 C535.8,256.7 535.8,266.7 535.0,275.0 C534.2,283.3 529.5,297.5 515.0,300.0 C500.5,302.5 460.5,300.8 448.0,290.0 C435.5,279.2 428.0,241.7 440.0,235.0 Z" fill="#000" fill-opacity="0.35" filter="url(#b6)"/>
</g>
</g>
<g clip-path="url(#mc)">
<path d="M85.6,129.7 L90.0,127.5 L96.6,125.8 L103.1,125.3 L109.7,126.6 L118.4,126.2 L127.2,126.6 L136.0,127.1 L142.5,126.2 L151.7,125.5 L149.5,129.7 L140.3,131.0 L131.6,130.4 L120.6,130.4 L109.7,129.9 L103.1,131.0 L98.7,133.2 L95.5,137.4 L93.3,142.8 L91.1,146.1 L87.8,140.7 L85.6,135.2 Z" fill="#a9dcec" stroke="#111" stroke-width="0.6"/>
<path d="M436.6,68.7 L444.6,66.5 L453.4,64.3 L462.1,59.9 L469.4,54.8 L475.3,50.4 L482.6,46.1 L488.4,41.7 L492.8,37.3 L496.4,32.9 L497.9,29.7 L505.6,29.7 L504.5,34.4 L503.0,38.8 L501.5,43.9 L498.6,46.1 L497.2,49.0 L492.8,50.4 L488.4,52.6 L484.0,54.1 L478.2,56.3 L473.8,59.2 L472.3,61.4 L468.0,62.1 L463.6,64.3 L459.2,67.2 L451.9,69.4 L444.6,70.9 L437.3,70.1 Z" fill="#a9dcec" stroke="#111" stroke-width="0.6"/>
<path d="M631.0,204.8 L622.7,206.3 L616.9,209.2 L612.5,210.7 L606.6,215.0 L602.3,216.5 L598.8,219.4 L600.8,223.8 L605.2,225.3 L609.6,226.7 L612.5,231.1 L613.9,235.5 L619.8,236.9 L631.0,236.9 Z" fill="#a9dcec" stroke="#111" stroke-width="0.6"/>
<path d="M618.3,257.4 L621.2,254.5 L625.6,253.6 L631.0,254.5 L631.0,267.6 L624.2,267.0 L618.3,264.7 L616.9,261.2 Z" fill="#a9dcec" stroke="#111" stroke-width="0.6"/>
<path d="M56.0,30.6 L57.8,36.8 L60.0,37.5 L63.0,39.4 L66.0,38.0 L70.0,37.7 L73.6,41.2 L78.0,40.0 L82.3,42.0 L84.0,44.0 L85.8,47.3 L87.6,42.0 L91.0,44.0 L94.6,46.4 L98.0,44.5 L101.6,43.8 L106.0,43.5 L112.1,42.0 L116.0,40.5 L120.0,38.5 L125.5,36.1 L125.0,38.8 L131.6,46.4 L145.0,60.0 L160.0,77.0 L163.3,78.2 L175.4,74.9 L184.0,79.3 L194.0,78.2 L207.0,78.5 L215.7,85.0 L222.3,89.4 L233.2,86.1 L235.4,88.3" fill="none" stroke="#111" stroke-width="0.7" stroke-linejoin="round"/>
<path d="M235.4,88.3 L242.0,96.0 L237.6,100.4 L226.6,106.9 L225.5,117.9 L215.7,122.3 L196.0,121.2 L191.6,137.6 L189.4,144.2 L171.9,142.0 L162.2,145.0 L160.0,148.3 L166.6,153.8 L169.9,162.6 L165.5,169.1 L163.3,175.7 L161.6,178.5" fill="none" stroke="#111" stroke-width="0.7" stroke-linejoin="round"/>
<path d="M235.4,88.3 L244.2,93.8 L252.9,97.1 L250.7,102.5 L266.0,109.1 L279.2,115.7 L283.6,124.4 L290.1,133.2 L285.8,139.8 L290.1,146.3 L317.0,145.5 L339.5,156.8 L350.7,172.1 L372.2,173.5 L410.0,174.2 L420.4,179.3 L445.0,181.3 L453.1,185.4 L461.3,181.3 L475.6,176.2 L502.2,176.2 L514.4,172.1 L530.8,162.9 L532.8,154.7 L526.7,152.7 L528.8,146.6 L535.9,145.5 L542.5,147.9 L557.4,144.2 L566.8,140.4 L581.7,134.8 L594.8,127.4 L609.8,125.5 L623.8,127.4" fill="none" stroke="#111" stroke-width="0.7" stroke-linejoin="round"/>
<path d="M244.2,93.8 L250.7,89.4 L268.2,88.3 L281.4,86.1 L290.1,80.7 L303.1,78.2 L311.9,81.5 L326.1,82.6 L328.3,86.9 L344.7,87.4 L357.9,89.1 L364.4,86.9 L372.1,82.6 L369.9,77.1 L371.0,70.5 L379.8,63.9 L388.5,66.1 L403.9,68.3 L417.0,71.6 L421.4,80.4 L430.1,83.6 L443.1,83.6 L456.3,82.6 L473.8,84.7 L486.9,89.1 L502.3,93.5 L517.6,96.8 L535.1,93.5 L552.6,88.0 L561.4,86.9 L570.1,89.1 L585.5,90.0 L600.4,92.7 L617.3,84.3 L624.8,71.2" fill="none" stroke="#111" stroke-width="0.7" stroke-linejoin="round"/>
<path d="M585.5,90.0 L580.0,100.0 L574.3,108.6 L574.3,110.5 L581.7,114.3 L598.6,110.5 L613.5,116.1 L622.9,119.9 L623.8,127.4" fill="none" stroke="#111" stroke-width="0.7" stroke-linejoin="round"/>
<path d="M161.6,178.5 L150.3,172.8 L129.4,169.0 L112.3,169.9 L100.9,169.0 L93.3,166.7 L85.7,168.0 L74.4,170.9 L65.0,172.0 L55.4,174.7 L44.0,176.0" fill="none" stroke="#111" stroke-width="0.7" stroke-linejoin="round"/>
<path d="M161.6,178.5 L157.9,181.3 L138.9,188.0 L123.7,193.6 L106.6,199.3 L91.4,200.3 L78.2,203.1 L66.8,206.9 L53.5,208.8 L44.0,209.0" fill="none" stroke="#111" stroke-width="0.7" stroke-linejoin="round"/>
<path d="M47.8,188.0 L55.0,186.0 L63.0,187.0 L72.0,190.0 L80.0,193.6 L72.0,197.0 L66.8,199.3 L58.0,200.0 L51.6,201.2 L47.0,198.0 L47.8,188.0" fill="none" stroke="#111" stroke-width="0.7" stroke-linejoin="round"/>
<path d="M89.6,200.0 L93.1,205.3 L96.6,215.8 L87.9,224.6 L101.9,235.1 L103.6,238.6" fill="none" stroke="#111" stroke-width="0.7" stroke-linejoin="round"/>
<path d="M44.0,224.6 L54.5,222.8 L61.5,226.3 L61.5,235.1 L70.3,240.4 L87.9,238.6 L103.6,238.6" fill="none" stroke="#111" stroke-width="0.7" stroke-linejoin="round"/>
<path d="M61.5,235.1 L59.8,250.9 L56.3,261.4 L58.0,271.9 L47.5,273.7 L44.0,275.4" fill="none" stroke="#111" stroke-width="0.7" stroke-linejoin="round"/>
<path d="M103.6,238.6 L114.2,243.9 L124.7,256.1 L137.0,257.9 L147.5,270.2 L145.8,284.2 L151.0,291.2 L159.8,298.2 L168.0,304.0 L175.0,310.0 L180.0,322.0" fill="none" stroke="#111" stroke-width="0.7" stroke-linejoin="round"/>
<path d="M78.0,255.0 L85.0,262.0 L89.6,266.7 L93.1,273.7 L91.4,280.7 L101.9,287.7 L105.4,294.7 L96.6,305.3 L94.9,314.0 L89.6,322.0" fill="none" stroke="#111" stroke-width="0.7" stroke-linejoin="round"/>
<path d="M44.0,67.2 L58.2,69.9 L87.8,83.6 L103.1,81.9 L109.3,67.7 L99.8,54.5 L108.6,44.9 L123.9,46.4 L153.0,47.7" fill="none" stroke="#437696" stroke-width="2.2" stroke-linejoin="miter"/>
<path d="M168.5,54.2 L171.9,65.3 L178.5,78.5 L189.4,89.4 L204.7,94.9 L220.0,97.1 L233.2,94.9 L248.5,89.4 L257.3,82.8 L266.0,79.6 L286.0,76.0" fill="none" stroke="#437696" stroke-width="2.2" stroke-linejoin="miter"/>
<path d="M304.0,74.9 L318.5,71.6 L336.0,69.9 L349.1,72.7 L360.0,80.4 L366.6,89.1 L372.1,97.9 L379.8,108.8 L390.7,122.0 L400.0,129.2 L420.4,138.4 L423.0,138.0" fill="none" stroke="#437696" stroke-width="2.2" stroke-linejoin="miter"/>
<path d="M437.5,127.0 L445.3,119.8 L469.4,118.7 L493.5,116.5 L524.2,122.0 L557.0,117.6 L571.4,117.1 L570.5,123.5" fill="none" stroke="#437696" stroke-width="2.2" stroke-linejoin="miter"/>
<path d="M566.0,143.0 L565.8,145.1 L561.2,162.0 L548.1,174.1 L531.2,178.8 L520.0,179.7 L510.4,180.3 L500.1,183.4 L489.9,195.6 L485.8,210.0 L473.6,220.1 L465.0,231.1 L461.0,232.6" fill="none" stroke="#437696" stroke-width="2.2" stroke-linejoin="miter"/>
<path d="M445.5,233.1 L441.7,232.6 L430.8,228.6 L414.4,222.5 L396.0,217.4 L377.7,214.3 L363.4,216.3 L354.2,224.5 L359.3,237.8 L349.0,252.1 L336.5,255.8" fill="none" stroke="#437696" stroke-width="2.2" stroke-linejoin="miter"/>
<path d="M317.0,250.5 L300.0,247.0 L288.8,247.7 L270.4,255.9 L249.9,264.0 L229.5,270.2 L217.2,280.4 L207.0,296.7 L190.7,308.0" fill="none" stroke="#437696" stroke-width="2.2" stroke-linejoin="miter"/>
<path d="M172.0,305.5 L160.0,301.9 L150.3,296.0 L129.4,278.0 L116.1,268.5 L101.0,260.9 L87.6,258.0 L72.5,259.0 L55.4,264.7 L44.0,271.3" fill="none" stroke="#437696" stroke-width="2.2" stroke-linejoin="miter"/>
<path d="M44.0,86.5 L71.4,104.4 L87.8,104.0 L105.3,100.0 L120.6,94.6 L133.8,88.0 L146.9,91.3 L160.0,101.2 L173.2,109.3 L187.2,107.4 L190.0,107.5" fill="none" stroke="#488e9d" stroke-width="2.2" stroke-linejoin="miter"/>
<path d="M207.0,109.1 L222.3,109.6 L237.6,108.0 L246.3,102.5 L255.1,94.9 L263.9,90.5 L277.0,89.9 L292.3,89.9 L311.9,92.4 L327.2,93.5 L338.2,100.0 L339.5,104.0" fill="none" stroke="#488e9d" stroke-width="2.2" stroke-linejoin="miter"/>
<path d="M342.5,120.5 L344.7,124.2 L349.1,130.0 L357.9,129.2 L376.3,132.3 L392.6,136.3 L400.0,142.5 L424.5,150.7 L440.9,145.5 L461.3,138.4 L477.7,135.3 L480.0,135.3" fill="none" stroke="#488e9d" stroke-width="2.2" stroke-linejoin="miter"/>
<path d="M498.0,135.3 L514.4,138.4 L528.8,146.6 L535.9,160.9 L514.4,163.9 L487.9,168.0 L477.7,175.2 L472.6,187.4 L468.5,205.8 L466.0,208.0" fill="none" stroke="#488e9d" stroke-width="2.2" stroke-linejoin="miter"/>
<path d="M452.0,216.5 L447.0,218.1 L430.7,220.1 L412.3,216.0 L400.0,212.0 L392.6,210.0 L376.3,206.9 L362.0,207.9 L355.2,212.3 L347.0,220.4 L346.0,236.8 L344.0,248.0 L337.8,249.5" fill="none" stroke="#488e9d" stroke-width="2.2" stroke-linejoin="miter"/>
<path d="M316.3,243.9 L300.0,241.9 L282.6,245.7 L264.2,253.8 L245.8,261.0 L221.3,267.1 L211.1,276.3 L200.9,288.6 L190.7,297.8" fill="none" stroke="#488e9d" stroke-width="2.2" stroke-linejoin="miter"/>
<path d="M171.2,301.7 L157.9,291.2 L144.6,279.8 L129.4,270.4 L116.1,262.8 L101.0,255.2 L82.0,254.2 L63.0,256.1 L44.0,261.8" fill="none" stroke="#488e9d" stroke-width="2.2" stroke-linejoin="miter"/>
<path d="M116.3,165.8 L131.6,161.9 L146.9,162.6 L162.2,169.1 L165.5,177.9 L160.0,188.8 L144.7,198.7 L125.0,199.8 L116.3,194.3 L111.9,182.3 Z" fill="none" stroke="#488e9d" stroke-width="2.2" stroke-linejoin="miter"/>
<path d="M202.5,181.5 L190.0,178.5 L176.6,173.1 L175.5,165.0 L176.6,160.9 L190.9,152.7 L205.2,148.6 L220.5,147.0 L237.9,150.7 L248.1,156.8 L249.1,171.1 L237.9,178.2 L223.6,181.3 L222.0,181.4" fill="none" stroke="#488e9d" stroke-width="2.2" stroke-linejoin="miter"/>
<path d="M199.0,160.9 L213.4,154.7 L229.7,156.8 L238.9,167.0 L229.7,173.1 L213.4,176.2 L198.0,172.1 Z" fill="none" stroke="#437696" stroke-width="2.2" stroke-linejoin="miter"/>
<path d="M207.2,166.6 L219.5,162.9 L219.5,169.0 Z" fill="none" stroke="#3f5d92" stroke-width="2.2" stroke-linejoin="miter"/>
<path d="M44.0,116.6 L59.3,126.4 L74.7,131.2 L78.0,131.0" fill="none" stroke="#52a8a3" stroke-width="2.2" stroke-linejoin="miter"/>
<path d="M93.0,127.5 L95.5,127.1 L121.7,119.9 L136.0,125.3 L131.6,138.5 L116.3,146.1 L98.7,151.6 L81.2,163.6 L74.7,170.2 L82.1,177.9 L87.4,187.1" fill="none" stroke="#52a8a3" stroke-width="2.2" stroke-linejoin="miter"/>
<path d="M97.5,201.0 L99.8,204.8 L115.0,212.0 L134.0,213.4 L149.1,210.0 L162.3,201.7 L176.6,195.6 L190.9,191.9 L211.3,191.5 L233.8,189.5 L236.0,189.0" fill="none" stroke="#52a8a3" stroke-width="2.2" stroke-linejoin="miter"/>
<path d="M252.2,180.3 L264.4,170.1 L277.8,164.0 L290.4,154.7 L302.7,146.6 L313.9,141.5 L323.1,144.5 L337.4,148.6 L355.8,147.6 L366.1,148.6 L378.3,153.7 L380.0,155.0" fill="none" stroke="#52a8a3" stroke-width="2.2" stroke-linejoin="miter"/>
<path d="M394.0,166.0 L396.7,167.0 L410.0,170.0 L414.3,171.1 L426.6,181.3 L422.5,194.6 L412.3,199.7 L400.0,199.7 L392.6,195.6 L376.3,189.5 L362.0,186.4 L351.7,193.6 L342.6,203.8 L341.0,206.0" fill="none" stroke="#52a8a3" stroke-width="2.2" stroke-linejoin="miter"/>
<path d="M333.0,220.0 L330.7,224.5 L327.6,235.8 L312.3,235.8 L300.0,234.7 L282.6,233.4 L266.3,238.5 L247.9,247.7 L225.4,253.8 L202.9,260.0 L200.0,260.5" fill="none" stroke="#52a8a3" stroke-width="2.2" stroke-linejoin="miter"/>
<path d="M184.0,263.0 L180.4,263.0 L160.0,262.0 L150.3,259.0 L142.6,250.7 L128.5,244.9 L113.4,240.2 L97.1,243.8 L72.5,246.6 L44.0,251.4" fill="none" stroke="#52a8a3" stroke-width="2.2" stroke-linejoin="miter"/>
<path d="M100.5,205.5 L105.8,213.4 L108.4,222.6 L108.4,233.1 L105.8,237.0 L96.6,241.0 L83.4,242.9 L63.7,244.9 L44.0,247.5" fill="none" stroke="#52a8a3" stroke-width="2.2" stroke-linejoin="miter"/>
<path d="M44.0,130.8 L60.0,138.0 L74.7,144.6 L65.9,156.0 L50.6,166.9 L46.2,173.0" fill="none" stroke="#66c3a6" stroke-width="2.2" stroke-linejoin="miter"/>
<path d="M56.0,182.5 L60.4,183.1 L74.2,185.1 L82.1,192.3 L88.7,200.2 L93.9,208.1 L97.9,217.3 L101.2,227.8 L99.2,234.4 L87.4,238.3 L70.3,240.9 L51.9,242.9 L44.0,244.9" fill="none" stroke="#66c3a6" stroke-width="2.2" stroke-linejoin="miter"/>
<path d="M150.0,221.2 L170.4,212.0 L186.8,200.7 L201.1,203.8 L219.5,199.7 L237.9,193.6 L256.3,181.3 L268.5,171.1 L270.0,170.0" fill="none" stroke="#66c3a6" stroke-width="2.2" stroke-linejoin="miter"/>
<path d="M283.0,164.0 L286.4,162.9 L312.9,151.7 L337.4,155.8 L358.9,153.7 L362.0,162.9 L349.7,168.0 L343.6,175.2 L339.5,185.4 L337.4,197.7 L335.0,204.0" fill="none" stroke="#66c3a6" stroke-width="2.2" stroke-linejoin="miter"/>
<path d="M326.8,226.6 L312.3,231.7 L300.0,230.7 L280.6,227.3 L264.2,233.4 L249.9,241.6 L237.7,246.7 L217.2,249.7 L190.7,253.8 L170.0,253.6 L160.0,251.9 L154.2,249.6 L142.6,241.4 L133.0,234.5" fill="none" stroke="#66c3a6" stroke-width="2.2" stroke-linejoin="miter"/>
<path d="M101.0,241.0 L72.5,243.8 L44.0,247.6" fill="none" stroke="#66c3a6" stroke-width="2.2" stroke-linejoin="miter"/>
<path d="M138.5,223.6 L150.0,221.2" fill="none" stroke="#66c3a6" stroke-width="2.2" stroke-linejoin="miter"/>
<path d="M400.0,178.2 L402.0,177.2 L416.3,181.3 L420.4,189.5 L406.1,193.6 L400.0,183.4 L392.6,187.4 L400.8,177.2" fill="none" stroke="#66c3a6" stroke-width="2.2" stroke-linejoin="miter"/>
<path d="M300.0,166.0 L297.1,165.4" fill="none" stroke="#93d7a3" stroke-width="2.2" stroke-linejoin="miter"/>
<path d="M316.4,177.2 L320.7,188.5 L323.4,220.1 L318.1,227.1 L302.3,225.3 L293.6,213.1 L279.6,207.8 L255.0,214.8 L234.0,223.6 L221.8,227.1 L221.8,216.6 L230.5,206.1 L244.5,197.3 L260.3,183.3 L267.3,173.7 L297.1,165.4" fill="none" stroke="#93d7a3" stroke-width="2.2" stroke-linejoin="miter"/>
<path d="M272.6,185.0 L277.8,178.0 L290.0,178.9 L285.7,189.4 Z" fill="none" stroke="#93d7a3" stroke-width="2.2" stroke-linejoin="miter"/>
<path d="M45.3,187.1 L59.8,191.7 L70.3,193.7 L80.8,196.3 L87.4,202.9 L91.3,210.7 L91.3,221.2 L89.3,231.8 L83.4,235.7 L70.3,236.4 L54.5,238.3 L44.0,241.0" fill="none" stroke="#93d7a3" stroke-width="2.2" stroke-linejoin="miter"/>
<path d="M44.0,219.3 L51.9,220.6 L63.7,216.6 L80.8,209.4 L88.7,217.3 L91.3,221.2" fill="none" stroke="#93d7a3" stroke-width="2.2" stroke-linejoin="miter"/>
<path d="M44.0,242.8 L63.0,241.0 L82.0,240.0" fill="none" stroke="#93d7a3" stroke-width="2.2" stroke-linejoin="miter"/>
<path d="M221.2,30.0 L225.5,43.0 L216.9,62.4 L214.6,64.2 L215.7,77.4 L235.4,88.3" fill="none" stroke="#3f5d92" stroke-width="2.2" stroke-linejoin="miter"/>
<path d="M251.8,77.4 L268.2,70.8 L285.8,66.4 L300.0,65.8 L307.5,67.2 L322.8,62.8 L338.2,59.6 L353.5,62.8 L364.4,69.4 L373.2,77.1 L382.0,84.7" fill="none" stroke="#3f5d92" stroke-width="2.2" stroke-linejoin="miter"/>
<path d="M399.5,100.0 L410.4,115.4 L430.0,106.6 L458.5,93.5 L466.1,80.4 L468.3,67.2 L465.0,56.3 L457.4,36.6 L466.1,30.0" fill="none" stroke="#3f5d92" stroke-width="2.2" stroke-linejoin="miter"/>
<path d="M339.3,34.4 L355.7,32.2 L373.2,34.4 L386.3,37.7 L389.6,50.8 L374.3,56.3 L355.7,48.6 L344.7,44.2 Z" fill="none" stroke="#3f5d92" stroke-width="2.2" stroke-linejoin="miter"/>
<path d="M425.8,58.5 L441.0,62.8 L445.3,74.9 L430.1,79.3 L419.2,69.4 Z" fill="none" stroke="#3f5d92" stroke-width="2.2" stroke-linejoin="miter"/>
<path d="M524.2,30.0 L522.0,49.7 L517.6,62.8 L502.3,69.4 L486.9,77.1 L491.3,92.4 L522.0,95.7 L541.7,94.6 L553.7,88.1 L556.0,87.0" fill="none" stroke="#3f5d92" stroke-width="2.2" stroke-linejoin="miter"/>
<path d="M572.4,80.6 L585.5,83.4 L600.4,89.0 L607.9,99.3 L606.1,116.1 L600.4,134.8 L591.1,151.7 L576.1,168.5 L557.4,181.6" fill="none" stroke="#3f5d92" stroke-width="2.2" stroke-linejoin="miter"/>
<path d="M536.0,186.6 L533.6,186.4 L517.6,191.7 L503.0,203.4 L488.4,220.9 L473.8,235.5 L453.4,242.8 L440.0,240.0 L430.8,235.8 L418.5,229.6" fill="none" stroke="#3f5d92" stroke-width="2.2" stroke-linejoin="miter"/>
<path d="M398.0,222.5 L377.7,222.5 L364.4,226.6 L369.5,238.8 L371.1,247.4 L367.4,249.0 L359.3,254.2 L347.0,258.2 L330.7,259.3 L300.0,251.1 L287.7,253.8" fill="none" stroke="#3f5d92" stroke-width="2.2" stroke-linejoin="miter"/>
<path d="M270.0,263.0 L268.3,264.0 L245.8,275.3 L227.4,282.4 L217.2,296.7 L209.0,309.0 L190.7,315.1 L176.3,313.1 L160.0,307.0 L150.3,291.2 L144.0,288.0" fill="none" stroke="#3f5d92" stroke-width="2.2" stroke-linejoin="miter"/>
<path d="M131.3,280.8 L119.9,278.0 L104.7,268.5 L91.4,263.7 L76.3,262.8 L63.0,270.4 L55.4,283.6 L64.9,302.6 L78.2,315.9 L82.0,322.0" fill="none" stroke="#3f5d92" stroke-width="2.2" stroke-linejoin="miter"/>
<path d="M404.2,236.8 L410.4,243.0 L404.2,243.0 Z" fill="none" stroke="#3f5d92" stroke-width="2.2" stroke-linejoin="miter"/>
<path d="M594.8,182.5 L604.2,179.7 L626.0,181.0" fill="none" stroke="#43447c" stroke-width="2.2" stroke-linejoin="miter"/>
<path d="M576.0,196.1 L558.5,203.4 L546.8,209.2 L538.0,218.0 L511.8,229.6 L488.4,245.7 L468.0,257.4 L456.3,267.6 L454.0,268.5" fill="none" stroke="#43447c" stroke-width="2.2" stroke-linejoin="miter"/>
<path d="M438.0,266.5 L430.0,263.2 L422.6,254.2 L406.3,254.2 L385.8,263.4 L361.3,273.6 L330.7,272.6 L302.0,275.6" fill="none" stroke="#43447c" stroke-width="2.2" stroke-linejoin="miter"/>
<path d="M282.6,276.3 L273.4,286.5 L274.5,301.9 L258.1,302.9 L237.7,309.0 L211.1,317.2 L190.7,319.2 L176.3,317.2 L167.3,310.2" fill="none" stroke="#43447c" stroke-width="2.2" stroke-linejoin="miter"/>
<path d="M144.6,291.2 L129.4,285.5 L110.4,278.0 L93.3,270.4 L82.0,268.5 L70.6,276.0 L72.5,289.3 L89.5,306.4 L100.9,322.0" fill="none" stroke="#43447c" stroke-width="2.2" stroke-linejoin="miter"/>
<path d="M174.0,315.9 L157.9,304.5 L138.9,295.0 L119.9,287.4 L100.9,281.7 L85.7,278.0 L82.0,288.4 L91.4,298.8 L100.9,308.3 L110.4,319.7 L112.0,322.0" fill="none" stroke="#3a3053" stroke-width="2.2" stroke-linejoin="miter"/>
<path d="M318.4,318.5 L330.7,316.5 L340.9,322.0" fill="none" stroke="#3a3053" stroke-width="2.2" stroke-linejoin="miter"/>
<path d="M381.7,322.0 L383.8,300.1 L394.0,283.8 L408.3,281.7 L420.6,293.0 L440.0,292.0 L447.5,285.1 L468.0,276.4 L485.5,274.9 L490.0,275.5" fill="none" stroke="#3a3053" stroke-width="2.2" stroke-linejoin="miter"/>
<path d="M510.0,280.5 L511.8,280.7 L526.4,279.3 L546.8,267.6 L570.1,255.9 L584.7,235.5 L597.9,220.9" fill="none" stroke="#3a3053" stroke-width="2.2" stroke-linejoin="miter"/>
<path d="M597.9,220.9 L602.3,212.1 L598.8,199.9 L614.0,198.1 L625.0,201.9 L630.0,203.4" fill="none" stroke="#3a3053" stroke-width="2.2" stroke-linejoin="miter"/>
<path d="M597.9,220.9 L608.1,231.1 L616.9,238.4 L630.0,238.4" fill="none" stroke="#3a3053" stroke-width="2.2" stroke-linejoin="miter"/>
<path d="M44.0,297.0 L63.0,310.2 L78.2,319.7 L80.0,322.0" fill="none" stroke="#488e9d" stroke-width="2.2" stroke-linejoin="miter"/>
<path d="M44.0,316.0 L63.0,317.8 L68.0,322.0" fill="none" stroke="#52a8a3" stroke-width="2.2" stroke-linejoin="miter"/>
<text transform="translate(160.5,51.5) rotate(12)" text-anchor="middle" dominant-baseline="central" font-size="11.2" stroke="#000" stroke-width="0.15" font-family="Liberation Sans, sans-serif">1.5</text>
<text transform="translate(295,77) rotate(-5)" text-anchor="middle" dominant-baseline="central" font-size="11.2" stroke="#000" stroke-width="0.15" font-family="Liberation Sans, sans-serif">1.5</text>
<text transform="translate(430.5,132.5) rotate(-30)" text-anchor="middle" dominant-baseline="central" font-size="11.2" stroke="#000" stroke-width="0.15" font-family="Liberation Sans, sans-serif">1.5</text>
<text transform="translate(568,134.5) rotate(-80)" text-anchor="middle" dominant-baseline="central" font-size="11.2" stroke="#000" stroke-width="0.15" font-family="Liberation Sans, sans-serif">1.5</text>
<text transform="translate(453.5,233.5) rotate(0)" text-anchor="middle" dominant-baseline="central" font-size="11.2" stroke="#000" stroke-width="0.15" font-family="Liberation Sans, sans-serif">1.5</text>
<text transform="translate(326.5,253) rotate(-12)" text-anchor="middle" dominant-baseline="central" font-size="11.2" stroke="#000" stroke-width="0.15" font-family="Liberation Sans, sans-serif">1.5</text>
<text transform="translate(181.5,308.5) rotate(0)" text-anchor="middle" dominant-baseline="central" font-size="11.2" stroke="#000" stroke-width="0.15" font-family="Liberation Sans, sans-serif">1.5</text>
<text transform="translate(198.5,109) rotate(0)" text-anchor="middle" dominant-baseline="central" font-size="11.2" stroke="#000" stroke-width="0.15" font-family="Liberation Sans, sans-serif">1.0</text>
<text transform="translate(341,112.5) rotate(70)" text-anchor="middle" dominant-baseline="central" font-size="11.2" stroke="#000" stroke-width="0.15" font-family="Liberation Sans, sans-serif">1.0</text>
<text transform="translate(489,135.3) rotate(0)" text-anchor="middle" dominant-baseline="central" font-size="11.2" stroke="#000" stroke-width="0.15" font-family="Liberation Sans, sans-serif">1.0</text>
<text transform="translate(459.3,213) rotate(-38)" text-anchor="middle" dominant-baseline="central" font-size="11.2" stroke="#000" stroke-width="0.15" font-family="Liberation Sans, sans-serif">1.0</text>
<text transform="translate(326.5,247) rotate(-12)" text-anchor="middle" dominant-baseline="central" font-size="11.2" stroke="#000" stroke-width="0.15" font-family="Liberation Sans, sans-serif">1.0</text>
<text transform="translate(181.5,300.5) rotate(0)" text-anchor="middle" dominant-baseline="central" font-size="11.2" stroke="#000" stroke-width="0.15" font-family="Liberation Sans, sans-serif">1.0</text>
<text transform="translate(212.3,183.4) rotate(0)" text-anchor="middle" dominant-baseline="central" font-size="11.2" stroke="#000" stroke-width="0.15" font-family="Liberation Sans, sans-serif">1.0</text>
<text transform="translate(84.5,130.5) rotate(0)" text-anchor="middle" dominant-baseline="central" font-size="11.2" stroke="#000" stroke-width="0.15" font-family="Liberation Sans, sans-serif">0.5</text>
<text transform="translate(92.2,195.5) rotate(65)" text-anchor="middle" dominant-baseline="central" font-size="11.2" stroke="#000" stroke-width="0.15" font-family="Liberation Sans, sans-serif">0.5</text>
<text transform="translate(244.3,185.2) rotate(-15)" text-anchor="middle" dominant-baseline="central" font-size="11.2" stroke="#000" stroke-width="0.15" font-family="Liberation Sans, sans-serif">0.5</text>
<text transform="translate(387.5,161.5) rotate(25)" text-anchor="middle" dominant-baseline="central" font-size="11.2" stroke="#000" stroke-width="0.15" font-family="Liberation Sans, sans-serif">0.5</text>
<text transform="translate(337.5,212) rotate(-65)" text-anchor="middle" dominant-baseline="central" font-size="11.2" stroke="#000" stroke-width="0.15" font-family="Liberation Sans, sans-serif">0.5</text>
<text transform="translate(192.7,263.5) rotate(0)" text-anchor="middle" dominant-baseline="central" font-size="11.2" stroke="#000" stroke-width="0.15" font-family="Liberation Sans, sans-serif">0.5</text>
<text transform="translate(51.5,179.5) rotate(-65)" text-anchor="middle" dominant-baseline="central" font-size="11.2" stroke="#000" stroke-width="0.15" font-family="Liberation Sans, sans-serif">0.4</text>
<text transform="translate(276.5,167.3) rotate(-20)" text-anchor="middle" dominant-baseline="central" font-size="11.2" stroke="#000" stroke-width="0.15" font-family="Liberation Sans, sans-serif">0.4</text>
<text transform="translate(329.5,216.5) rotate(-75)" text-anchor="middle" dominant-baseline="central" font-size="11.2" stroke="#000" stroke-width="0.15" font-family="Liberation Sans, sans-serif">0.4</text>
<text transform="translate(133.4,228.8) rotate(-58)" text-anchor="middle" dominant-baseline="central" font-size="11.2" stroke="#000" stroke-width="0.15" font-family="Liberation Sans, sans-serif">0.4</text>
<text transform="translate(307.7,172) rotate(35)" text-anchor="middle" dominant-baseline="central" font-size="11.2" stroke="#000" stroke-width="0.15" font-family="Liberation Sans, sans-serif">0.3</text>
<text transform="translate(242.5,82) rotate(-25)" text-anchor="middle" dominant-baseline="central" font-size="11.2" stroke="#000" stroke-width="0.15" font-family="Liberation Sans, sans-serif">2.0</text>
<text transform="translate(390.7,92.5) rotate(45)" text-anchor="middle" dominant-baseline="central" font-size="11.2" stroke="#000" stroke-width="0.15" font-family="Liberation Sans, sans-serif">2.0</text>
<text transform="translate(564,83) rotate(-30)" text-anchor="middle" dominant-baseline="central" font-size="11.2" stroke="#000" stroke-width="0.15" font-family="Liberation Sans, sans-serif">2.0</text>
<text transform="translate(546.5,184.5) rotate(-15)" text-anchor="middle" dominant-baseline="central" font-size="11.2" stroke="#000" stroke-width="0.15" font-family="Liberation Sans, sans-serif">2.0</text>
<text transform="translate(408.3,226.5) rotate(12)" text-anchor="middle" dominant-baseline="central" font-size="11.2" stroke="#000" stroke-width="0.15" font-family="Liberation Sans, sans-serif">2.0</text>
<text transform="translate(278.5,258) rotate(-25)" text-anchor="middle" dominant-baseline="central" font-size="11.2" stroke="#000" stroke-width="0.15" font-family="Liberation Sans, sans-serif">2.0</text>
<text transform="translate(137,285.5) rotate(50)" text-anchor="middle" dominant-baseline="central" font-size="11.2" stroke="#000" stroke-width="0.15" font-family="Liberation Sans, sans-serif">2.0</text>
<text transform="translate(585,189.5) rotate(-30)" text-anchor="middle" dominant-baseline="central" font-size="11.2" stroke="#000" stroke-width="0.15" font-family="Liberation Sans, sans-serif">3.0</text>
<text transform="translate(446,269.5) rotate(12)" text-anchor="middle" dominant-baseline="central" font-size="11.2" stroke="#000" stroke-width="0.15" font-family="Liberation Sans, sans-serif">3.0</text>
<text transform="translate(291.8,276.3) rotate(0)" text-anchor="middle" dominant-baseline="central" font-size="11.2" stroke="#000" stroke-width="0.15" font-family="Liberation Sans, sans-serif">3.0</text>
<text transform="translate(154.5,304.5) rotate(40)" text-anchor="middle" dominant-baseline="central" font-size="11.2" stroke="#000" stroke-width="0.15" font-family="Liberation Sans, sans-serif">3.0</text>
<text transform="translate(500,277) rotate(10)" text-anchor="middle" dominant-baseline="central" font-size="11.2" stroke="#000" stroke-width="0.15" font-family="Liberation Sans, sans-serif">4.0</text>
</g>
<rect x="160.7" y="88.1" width="348.7" height="174.3" fill="none" stroke="#000" stroke-width="1.3"/>
<circle cx="188.4" cy="102.3" r="3.7" fill="#488e9d" stroke="#141414" stroke-width="0.85"/>
<circle cx="213.3" cy="97.6" r="3.7" fill="#437696" stroke="#141414" stroke-width="0.85"/>
<circle cx="235.1" cy="87.9" r="3.7" fill="#43447c" stroke="#141414" stroke-width="0.85"/>
<circle cx="261.4" cy="87.9" r="3.7" fill="#488e9d" stroke="#141414" stroke-width="0.85"/>
<circle cx="300.8" cy="90.5" r="3.7" fill="#488e9d" stroke="#141414" stroke-width="0.85"/>
<circle cx="328.5" cy="91.8" r="3.7" fill="#437696" stroke="#141414" stroke-width="0.85"/>
<circle cx="254.3" cy="114.2" r="3.7" fill="#488e9d" stroke="#141414" stroke-width="0.85"/>
<circle cx="296.1" cy="110.7" r="3.7" fill="#488e9d" stroke="#141414" stroke-width="0.85"/>
<circle cx="294.3" cy="133.1" r="3.7" fill="#66c3a6" stroke="#141414" stroke-width="0.85"/>
<circle cx="217" cy="139.1" r="3.7" fill="#488e9d" stroke="#141414" stroke-width="0.85"/>
<circle cx="161.6" cy="155.7" r="3.7" fill="#488e9d" stroke="#141414" stroke-width="0.85"/>
<circle cx="176.5" cy="158.3" r="3.7" fill="#488e9d" stroke="#141414" stroke-width="0.85"/>
<circle cx="250.1" cy="160.1" r="3.7" fill="#488e9d" stroke="#141414" stroke-width="0.85"/>
<circle cx="318" cy="171.5" r="3.7" fill="#93d7a3" stroke="#141414" stroke-width="0.85"/>
<circle cx="195" cy="184.4" r="3.7" fill="#488e9d" stroke="#141414" stroke-width="0.85"/>
<circle cx="231.7" cy="183.8" r="3.7" fill="#66c3a6" stroke="#141414" stroke-width="0.85"/>
<circle cx="331.3" cy="202.8" r="3.7" fill="#93d7a3" stroke="#141414" stroke-width="0.85"/>
<circle cx="371.9" cy="103" r="3.7" fill="#437696" stroke="#141414" stroke-width="0.85"/>
<circle cx="356.5" cy="114.3" r="3.7" fill="#437696" stroke="#141414" stroke-width="0.85"/>
<circle cx="370.5" cy="124.6" r="3.7" fill="#437696" stroke="#141414" stroke-width="0.85"/>
<circle cx="349.6" cy="129.3" r="3.7" fill="#437696" stroke="#141414" stroke-width="0.85"/>
<circle cx="394.8" cy="92.2" r="3.7" fill="#3f5d92" stroke="#141414" stroke-width="0.85"/>
<circle cx="416.4" cy="93" r="3.7" fill="#43447c" stroke="#141414" stroke-width="0.85"/>
<circle cx="424.5" cy="95.4" r="3.7" fill="#43447c" stroke="#141414" stroke-width="0.85"/>
<circle cx="434.5" cy="101.6" r="3.7" fill="#43447c" stroke="#141414" stroke-width="0.85"/>
<circle cx="408.9" cy="105.1" r="3.7" fill="#43447c" stroke="#141414" stroke-width="0.85"/>
<circle cx="409.9" cy="117.8" r="3.7" fill="#43447c" stroke="#141414" stroke-width="0.85"/>
<circle cx="425.1" cy="123.7" r="3.7" fill="#43447c" stroke="#141414" stroke-width="0.85"/>
<circle cx="394.3" cy="126.4" r="3.7" fill="#3f5d92" stroke="#141414" stroke-width="0.85"/>
<circle cx="401" cy="132.7" r="3.7" fill="#437696" stroke="#141414" stroke-width="0.85"/>
<circle cx="463.7" cy="100.3" r="3.7" fill="#3f5d92" stroke="#141414" stroke-width="0.85"/>
<circle cx="471.8" cy="112.9" r="3.7" fill="#3f5d92" stroke="#141414" stroke-width="0.85"/>
<circle cx="480.1" cy="119.4" r="3.7" fill="#3f5d92" stroke="#141414" stroke-width="0.85"/>
<circle cx="438.6" cy="140.8" r="3.7" fill="#437696" stroke="#141414" stroke-width="0.85"/>
<circle cx="465.8" cy="137.3" r="3.7" fill="#488e9d" stroke="#141414" stroke-width="0.85"/>
<circle cx="454.8" cy="152.4" r="3.7" fill="#488e9d" stroke="#141414" stroke-width="0.85"/>
<circle cx="444.5" cy="162.4" r="3.7" fill="#488e9d" stroke="#141414" stroke-width="0.85"/>
<circle cx="405.5" cy="181.3" r="3.7" fill="#93d7a3" stroke="#141414" stroke-width="0.85"/>
<circle cx="445.4" cy="195.6" r="3.7" fill="#488e9d" stroke="#141414" stroke-width="0.85"/>
<circle cx="492" cy="185.8" r="3.7" fill="#437696" stroke="#141414" stroke-width="0.85"/>
<circle cx="428.7" cy="220" r="3.7" fill="#488e9d" stroke="#141414" stroke-width="0.85"/>
<circle cx="465" cy="221.7" r="3.7" fill="#437696" stroke="#141414" stroke-width="0.85"/>
<circle cx="358.3" cy="183.4" r="3.7" fill="#488e9d" stroke="#141414" stroke-width="0.85"/>
<circle cx="375.4" cy="207" r="3.7" fill="#488e9d" stroke="#141414" stroke-width="0.85"/>
<circle cx="371.1" cy="247.4" r="3.7" fill="#3f5d92" stroke="#141414" stroke-width="0.85"/>
<circle cx="413.4" cy="243.5" r="3.7" fill="#43447c" stroke="#141414" stroke-width="0.85"/>
<circle cx="503.6" cy="243.6" r="3.7" fill="#2a1d2f" stroke="#141414" stroke-width="0.85"/>
<rect x="44.5" y="30.0" width="581.2" height="290.5" fill="none" stroke="#000" stroke-width="1.6"/>
<line x1="34" y1="320.5" x2="44.5" y2="320.5" stroke="#000" stroke-width="1.6"/>
<text x="27.4" y="325.4" text-anchor="end" font-size="12.2" font-family="Liberation Sans, sans-serif">30°N</text>
<line x1="34" y1="262.4" x2="44.5" y2="262.4" stroke="#000" stroke-width="1.6"/>
<text x="27.4" y="267.3" text-anchor="end" font-size="12.2" font-family="Liberation Sans, sans-serif">35°N</text>
<line x1="34" y1="204.3" x2="44.5" y2="204.3" stroke="#000" stroke-width="1.6"/>
<text x="27.4" y="209.2" text-anchor="end" font-size="12.2" font-family="Liberation Sans, sans-serif">40°N</text>
<line x1="34" y1="146.2" x2="44.5" y2="146.2" stroke="#000" stroke-width="1.6"/>
<text x="27.4" y="151.1" text-anchor="end" font-size="12.2" font-family="Liberation Sans, sans-serif">45°N</text>
<line x1="34" y1="88.1" x2="44.5" y2="88.1" stroke="#000" stroke-width="1.6"/>
<text x="27.4" y="93.0" text-anchor="end" font-size="12.2" font-family="Liberation Sans, sans-serif">50°N</text>
<line x1="34" y1="30.0" x2="44.5" y2="30.0" stroke="#000" stroke-width="1.6"/>
<text x="27.4" y="34.9" text-anchor="end" font-size="12.2" font-family="Liberation Sans, sans-serif">55°N</text>
<line x1="44.5" y1="320.5" x2="44.5" y2="331" stroke="#000" stroke-width="1.6"/>
<text x="44.5" y="348.8" text-anchor="middle" font-size="12.2" font-family="Liberation Sans, sans-serif">70°E</text>
<line x1="160.7" y1="320.5" x2="160.7" y2="331" stroke="#000" stroke-width="1.6"/>
<text x="160.7" y="348.8" text-anchor="middle" font-size="12.2" font-family="Liberation Sans, sans-serif">80°E</text>
<line x1="277.0" y1="320.5" x2="277.0" y2="331" stroke="#000" stroke-width="1.6"/>
<text x="277.0" y="348.8" text-anchor="middle" font-size="12.2" font-family="Liberation Sans, sans-serif">90°E</text>
<line x1="393.2" y1="320.5" x2="393.2" y2="331" stroke="#000" stroke-width="1.6"/>
<text x="393.2" y="348.8" text-anchor="middle" font-size="12.2" font-family="Liberation Sans, sans-serif">100°E</text>
<line x1="509.5" y1="320.5" x2="509.5" y2="331" stroke="#000" stroke-width="1.6"/>
<text x="509.5" y="348.8" text-anchor="middle" font-size="12.2" font-family="Liberation Sans, sans-serif">110°E</text>
<line x1="625.7" y1="320.5" x2="625.7" y2="331" stroke="#000" stroke-width="1.6"/>
<text x="625.7" y="348.8" text-anchor="middle" font-size="12.2" font-family="Liberation Sans, sans-serif">120°E</text>
<text x="44.3" y="10.9" font-size="20.5" font-family="Liberation Sans, sans-serif">a</text>
<defs><linearGradient id="tg" x1="0" y1="1" x2="0" y2="0"><stop offset="0" stop-color="#f5eedc"/><stop offset="0.167" stop-color="#f3e3b8"/><stop offset="0.333" stop-color="#e4c37f"/><stop offset="0.5" stop-color="#cf9c52"/><stop offset="0.667" stop-color="#a86b24"/><stop offset="0.833" stop-color="#7e4a12"/><stop offset="1" stop-color="#583410"/></linearGradient></defs>
<rect x="646.5" y="31.5" width="10.3" height="287.7" fill="url(#tg)" stroke="#333" stroke-width="1"/>
<text transform="translate(668.8,314.5) rotate(-90)" text-anchor="middle" font-size="11.8" font-family="Liberation Sans, sans-serif">0</text>
<text transform="translate(668.8,268.2) rotate(-90)" text-anchor="middle" font-size="11.8" font-family="Liberation Sans, sans-serif">1</text>
<text transform="translate(668.8,221.8) rotate(-90)" text-anchor="middle" font-size="11.8" font-family="Liberation Sans, sans-serif">2</text>
<text transform="translate(668.8,175.5) rotate(-90)" text-anchor="middle" font-size="11.8" font-family="Liberation Sans, sans-serif">3</text>
<text transform="translate(668.8,129.2) rotate(-90)" text-anchor="middle" font-size="11.8" font-family="Liberation Sans, sans-serif">4</text>
<text transform="translate(668.8,82.9) rotate(-90)" text-anchor="middle" font-size="11.8" font-family="Liberation Sans, sans-serif">5</text>
<text transform="translate(668.8,36.5) rotate(-90)" text-anchor="middle" font-size="11.8" font-family="Liberation Sans, sans-serif">6</text>
<text transform="translate(683,174) rotate(-90)" text-anchor="middle" font-size="14" font-family="Liberation Sans, sans-serif">Terrain (km)</text>
<rect x="91.00" y="367.5" width="30.04" height="11" fill="#f8f9ca"/>
<rect x="121.04" y="367.5" width="30.04" height="11" fill="#c8e9b0"/>
<rect x="151.08" y="367.5" width="30.04" height="11" fill="#93d7a3"/>
<rect x="181.12" y="367.5" width="30.04" height="11" fill="#66c3a6"/>
<rect x="211.16" y="367.5" width="30.04" height="11" fill="#52a8a3"/>
<rect x="241.20" y="367.5" width="30.04" height="11" fill="#488e9d"/>
<rect x="271.24" y="367.5" width="30.04" height="11" fill="#437696"/>
<rect x="301.28" y="367.5" width="30.04" height="11" fill="#3f5d92"/>
<rect x="331.32" y="367.5" width="30.04" height="11" fill="#43447c"/>
<rect x="361.36" y="367.5" width="30.04" height="11" fill="#3a3053"/>
<rect x="391.40" y="367.5" width="30.04" height="11" fill="#2a1d2f"/>
<line x1="121.04" y1="367.5" x2="121.04" y2="378.5" stroke="#000" stroke-width="1"/>
<line x1="151.08" y1="367.5" x2="151.08" y2="378.5" stroke="#000" stroke-width="1"/>
<line x1="181.12" y1="367.5" x2="181.12" y2="378.5" stroke="#000" stroke-width="1"/>
<line x1="211.16" y1="367.5" x2="211.16" y2="378.5" stroke="#000" stroke-width="1"/>
<line x1="241.20" y1="367.5" x2="241.20" y2="378.5" stroke="#000" stroke-width="1"/>
<line x1="271.24" y1="367.5" x2="271.24" y2="378.5" stroke="#000" stroke-width="1"/>
<line x1="301.28" y1="367.5" x2="301.28" y2="378.5" stroke="#000" stroke-width="1"/>
<line x1="331.32" y1="367.5" x2="331.32" y2="378.5" stroke="#000" stroke-width="1"/>
<line x1="361.36" y1="367.5" x2="361.36" y2="378.5" stroke="#000" stroke-width="1"/>
<line x1="391.40" y1="367.5" x2="391.40" y2="378.5" stroke="#000" stroke-width="1"/>
<rect x="91.00" y="367.5" width="330.44" height="11" fill="none" stroke="#000" stroke-width="1"/>
<text x="121.04" y="389.5" text-anchor="middle" font-size="11" font-family="Liberation Sans, sans-serif">0.1</text>
<text x="151.08" y="389.5" text-anchor="middle" font-size="11" font-family="Liberation Sans, sans-serif">0.2</text>
<text x="181.12" y="389.5" text-anchor="middle" font-size="11" font-family="Liberation Sans, sans-serif">0.3</text>
<text x="211.16" y="389.5" text-anchor="middle" font-size="11" font-family="Liberation Sans, sans-serif">0.4</text>
<text x="241.20" y="389.5" text-anchor="middle" font-size="11" font-family="Liberation Sans, sans-serif">0.5</text>
<text x="271.24" y="389.5" text-anchor="middle" font-size="11" font-family="Liberation Sans, sans-serif">1</text>
<text x="301.28" y="389.5" text-anchor="middle" font-size="11" font-family="Liberation Sans, sans-serif">1.5</text>
<text x="331.32" y="389.5" text-anchor="middle" font-size="11" font-family="Liberation Sans, sans-serif">2</text>
<text x="361.36" y="389.5" text-anchor="middle" font-size="11" font-family="Liberation Sans, sans-serif">3</text>
<text x="391.40" y="389.5" text-anchor="middle" font-size="11" font-family="Liberation Sans, sans-serif">4</text>
<text x="433.3" y="384.6" font-size="15" font-family="Liberation Sans, sans-serif">Precipitation (mm d<tspan font-size="9.5" dy="-6">-1</tspan><tspan dy="6">)</tspan></text>
<path d="M65,436.3 V670.0 H357.8" fill="none" stroke="#000" stroke-width="1.6"/>
<line x1="61.4" y1="670.0" x2="65" y2="670.0" stroke="#000" stroke-width="1.1"/>
<line x1="61.4" y1="660.7" x2="65" y2="660.7" stroke="#000" stroke-width="1.1"/>
<line x1="61.4" y1="651.4" x2="65" y2="651.4" stroke="#000" stroke-width="1.1"/>
<line x1="57.7" y1="642.0" x2="65" y2="642.0" stroke="#000" stroke-width="1.4"/>
<line x1="61.4" y1="632.6" x2="65" y2="632.6" stroke="#000" stroke-width="1.1"/>
<line x1="61.4" y1="623.3" x2="65" y2="623.3" stroke="#000" stroke-width="1.1"/>
<line x1="61.4" y1="614.0" x2="65" y2="614.0" stroke="#000" stroke-width="1.1"/>
<line x1="57.7" y1="604.6" x2="65" y2="604.6" stroke="#000" stroke-width="1.4"/>
<line x1="61.4" y1="595.2" x2="65" y2="595.2" stroke="#000" stroke-width="1.1"/>
<line x1="61.4" y1="585.9" x2="65" y2="585.9" stroke="#000" stroke-width="1.1"/>
<line x1="61.4" y1="576.5" x2="65" y2="576.5" stroke="#000" stroke-width="1.1"/>
<line x1="57.7" y1="567.2" x2="65" y2="567.2" stroke="#000" stroke-width="1.4"/>
<line x1="61.4" y1="557.9" x2="65" y2="557.9" stroke="#000" stroke-width="1.1"/>
<line x1="61.4" y1="548.5" x2="65" y2="548.5" stroke="#000" stroke-width="1.1"/>
<line x1="61.4" y1="539.1" x2="65" y2="539.1" stroke="#000" stroke-width="1.1"/>
<line x1="57.7" y1="529.8" x2="65" y2="529.8" stroke="#000" stroke-width="1.4"/>
<line x1="61.4" y1="520.5" x2="65" y2="520.5" stroke="#000" stroke-width="1.1"/>
<line x1="61.4" y1="511.1" x2="65" y2="511.1" stroke="#000" stroke-width="1.1"/>
<line x1="61.4" y1="501.8" x2="65" y2="501.8" stroke="#000" stroke-width="1.1"/>
<line x1="57.7" y1="492.4" x2="65" y2="492.4" stroke="#000" stroke-width="1.4"/>
<line x1="61.4" y1="483.1" x2="65" y2="483.1" stroke="#000" stroke-width="1.1"/>
<line x1="61.4" y1="473.7" x2="65" y2="473.7" stroke="#000" stroke-width="1.1"/>
<line x1="61.4" y1="464.4" x2="65" y2="464.4" stroke="#000" stroke-width="1.1"/>
<line x1="57.7" y1="455.0" x2="65" y2="455.0" stroke="#000" stroke-width="1.4"/>
<line x1="61.4" y1="445.6" x2="65" y2="445.6" stroke="#000" stroke-width="1.1"/>
<line x1="61.4" y1="436.3" x2="65" y2="436.3" stroke="#000" stroke-width="1.1"/>
<text x="50" y="459.1" text-anchor="end" font-size="11.7" font-family="Liberation Sans, sans-serif">0.8</text>
<text x="50" y="496.5" text-anchor="end" font-size="11.7" font-family="Liberation Sans, sans-serif">0.4</text>
<text x="50" y="533.9" text-anchor="end" font-size="11.7" font-family="Liberation Sans, sans-serif">0.0</text>
<text x="50" y="571.3" text-anchor="end" font-size="11.7" font-family="Liberation Sans, sans-serif">-0.4</text>
<text x="50" y="608.7" text-anchor="end" font-size="11.7" font-family="Liberation Sans, sans-serif">-0.8</text>
<text x="50" y="646.1" text-anchor="end" font-size="11.7" font-family="Liberation Sans, sans-serif">-1.2</text>
<line x1="65.0" y1="670.3" x2="65.0" y2="677.5" stroke="#000" stroke-width="1.4"/>
<line x1="80.4" y1="670.3" x2="80.4" y2="673.8" stroke="#000" stroke-width="1.1"/>
<line x1="95.8" y1="670.3" x2="95.8" y2="673.8" stroke="#000" stroke-width="1.1"/>
<line x1="111.2" y1="670.3" x2="111.2" y2="673.8" stroke="#000" stroke-width="1.1"/>
<line x1="126.6" y1="670.3" x2="126.6" y2="673.8" stroke="#000" stroke-width="1.1"/>
<line x1="142.1" y1="670.3" x2="142.1" y2="677.5" stroke="#000" stroke-width="1.4"/>
<line x1="157.5" y1="670.3" x2="157.5" y2="673.8" stroke="#000" stroke-width="1.1"/>
<line x1="172.9" y1="670.3" x2="172.9" y2="673.8" stroke="#000" stroke-width="1.1"/>
<line x1="188.3" y1="670.3" x2="188.3" y2="673.8" stroke="#000" stroke-width="1.1"/>
<line x1="203.7" y1="670.3" x2="203.7" y2="673.8" stroke="#000" stroke-width="1.1"/>
<line x1="219.1" y1="670.3" x2="219.1" y2="677.5" stroke="#000" stroke-width="1.4"/>
<line x1="234.5" y1="670.3" x2="234.5" y2="673.8" stroke="#000" stroke-width="1.1"/>
<line x1="249.9" y1="670.3" x2="249.9" y2="673.8" stroke="#000" stroke-width="1.1"/>
<line x1="265.3" y1="670.3" x2="265.3" y2="673.8" stroke="#000" stroke-width="1.1"/>
<line x1="280.7" y1="670.3" x2="280.7" y2="673.8" stroke="#000" stroke-width="1.1"/>
<line x1="296.1" y1="670.3" x2="296.1" y2="677.5" stroke="#000" stroke-width="1.4"/>
<line x1="311.6" y1="670.3" x2="311.6" y2="673.8" stroke="#000" stroke-width="1.1"/>
<line x1="327.0" y1="670.3" x2="327.0" y2="673.8" stroke="#000" stroke-width="1.1"/>
<line x1="342.4" y1="670.3" x2="342.4" y2="673.8" stroke="#000" stroke-width="1.1"/>
<line x1="357.8" y1="670.3" x2="357.8" y2="673.8" stroke="#000" stroke-width="1.1"/>
<text x="65.0" y="694.8" text-anchor="middle" font-size="12" font-family="Liberation Sans, sans-serif">2000</text>
<text x="142.1" y="694.8" text-anchor="middle" font-size="12" font-family="Liberation Sans, sans-serif">2005</text>
<text x="219.1" y="694.8" text-anchor="middle" font-size="12" font-family="Liberation Sans, sans-serif">2010</text>
<text x="296.1" y="694.8" text-anchor="middle" font-size="12" font-family="Liberation Sans, sans-serif">2015</text>
<text transform="translate(18.9,652.4) rotate(-90)" text-anchor="start" font-size="14.6" font-family="Liberation Sans, sans-serif">Precipitation anomaly (mm d<tspan font-size="9.5" dy="-5.5">-1</tspan><tspan dy="5.5">)</tspan></text>
<text x="48.9" y="433.6" font-size="21.2" font-family="Liberation Sans, sans-serif">b</text>
<polyline points="65.0,538.2 80.4,549.4 95.8,555.5 111.2,511.1 126.6,535.9 142.1,532.6 157.5,541.0 172.9,520.5 188.3,534.5 203.7,536.3 219.1,533.5 234.5,523.7 249.9,493.3 265.3,495.2 280.7,541.0 296.1,553.2 311.6,500.8 327.0,539.1 342.4,493.3 357.8,522.3" fill="none" stroke="#6e6e6e" stroke-width="1.8" stroke-linejoin="miter"/>
<polyline points="65.0,534.5 80.4,543.8 95.8,538.2 111.2,514.8 126.6,537.3 142.1,533.5 157.5,539.1 172.9,521.4 188.3,535.4 203.7,541.0 219.1,537.3 234.5,527.9 249.9,505.0 265.3,508.3 280.7,535.4 296.1,533.5 311.6,503.6 327.0,523.3 342.4,496.1 357.8,520.5" fill="none" stroke="#33e8f0" stroke-width="1.8" stroke-linejoin="miter"/>
<polyline points="65.0,531.7 80.4,541.0 95.8,537.3 111.2,518.6 126.6,536.3 142.1,532.6 157.5,538.2 172.9,520.5 188.3,535.4 203.7,541.0 219.1,538.2 234.5,530.7 249.9,506.4 265.3,507.8 280.7,536.3 296.1,535.4 311.6,503.6 327.0,524.2 342.4,494.3 357.8,518.6" fill="none" stroke="#a033f0" stroke-width="1.8" stroke-linejoin="miter"/>
<polyline points="65.0,536.3 80.4,547.6 95.8,542.9 111.2,520.5 126.6,534.5 142.1,527.9 157.5,537.3 172.9,520.5 188.3,536.3 203.7,542.0 219.1,534.5 234.5,527.9 249.9,497.5 265.3,510.2 280.7,537.3 296.1,537.3 311.6,503.6 327.0,524.2 342.4,495.2 357.8,520.5" fill="none" stroke="#ffa500" stroke-width="1.8" stroke-linejoin="miter"/>
<polyline points="65.0,535.4 80.4,545.7 95.8,541.0 111.2,520.5 126.6,535.4 142.1,529.8 157.5,537.3 172.9,519.5 188.3,535.4 203.7,542.9 219.1,535.4 234.5,528.9 249.9,500.8 265.3,510.2 280.7,538.2 296.1,537.3 311.6,505.0 327.0,526.1 342.4,494.3 357.8,520.5" fill="none" stroke="#ff0000" stroke-width="1.8" stroke-linejoin="miter"/>
<polyline points="65.0,536.3 80.4,545.7 95.8,539.1 111.2,522.3 126.6,535.4 142.1,531.7 157.5,538.2 172.9,521.4 188.3,538.2 203.7,540.1 219.1,534.5 234.5,527.9 249.9,496.1 265.3,509.2 280.7,535.4 296.1,535.4 311.6,499.9 327.0,522.3 342.4,495.2 357.8,523.3" fill="none" stroke="#228b22" stroke-width="1.8" stroke-linejoin="miter"/>
<polyline points="65.0,537.3 80.4,545.7 95.8,543.8 111.2,521.4 126.6,536.3 142.1,531.7 157.5,538.2 172.9,520.5 188.3,534.5 203.7,543.8 219.1,534.5 234.5,527.9 249.9,498.9 265.3,509.2 280.7,535.4 296.1,535.4 311.6,502.7 327.0,524.2 342.4,493.3 357.8,520.5" fill="none" stroke="#0000ff" stroke-width="1.8" stroke-linejoin="miter"/>
<polyline points="65.0,538.2 80.4,546.6 95.8,539.1 111.2,523.8 126.6,538.7 142.1,527.0 157.5,537.3 172.9,519.0 188.3,532.6 203.7,545.7 219.1,532.6 234.5,527.3 249.9,491.5 265.3,509.7 280.7,534.9 296.1,534.2 311.6,501.8 327.0,521.4 342.4,491.5 357.8,522.6" fill="none" stroke="#000000" stroke-width="2.2" stroke-linejoin="miter"/>
<line x1="223.8" y1="567.7" x2="254" y2="567.7" stroke="#000000" stroke-width="2.2"/>
<text x="254" y="571.1" font-size="9.5" font-family="Liberation Sans, sans-serif">CPC (1.04)</text>
<line x1="223.8" y1="580.3" x2="254" y2="580.3" stroke="#33e8f0" stroke-width="2.2"/>
<text x="254" y="583.7" font-size="9.5" font-family="Liberation Sans, sans-serif">APHRO (0.98)</text>
<line x1="223.8" y1="592.9" x2="254" y2="592.9" stroke="#a033f0" stroke-width="2.2"/>
<text x="254" y="596.3" font-size="9.5" font-family="Liberation Sans, sans-serif">UDel (1.01)</text>
<line x1="223.8" y1="605.5" x2="254" y2="605.5" stroke="#ffa500" stroke-width="2.2"/>
<text x="254" y="608.9" font-size="9.5" font-family="Liberation Sans, sans-serif">TRMM (1.11)</text>
<line x1="223.8" y1="618.1" x2="254" y2="618.1" stroke="#ff0000" stroke-width="2.2"/>
<text x="254" y="621.5" font-size="9.5" font-family="Liberation Sans, sans-serif">CMAP (1.07)</text>
<line x1="223.8" y1="630.7" x2="254" y2="630.7" stroke="#228b22" stroke-width="2.2"/>
<text x="254" y="634.1" font-size="9.5" font-family="Liberation Sans, sans-serif">PREC/L (1.04)</text>
<line x1="223.8" y1="643.3" x2="254" y2="643.3" stroke="#0000ff" stroke-width="2.2"/>
<text x="254" y="646.7" font-size="9.5" font-family="Liberation Sans, sans-serif">GPCP (1.10)</text>
<line x1="223.8" y1="655.9" x2="254" y2="655.9" stroke="#6e6e6e" stroke-width="2.2"/>
<text x="254" y="659.3" font-size="9.5" font-family="Liberation Sans, sans-serif">GHCN (1.27)</text>
<line x1="456.1" y1="454.5" x2="456.1" y2="571.5" stroke="#000" stroke-width="1.4"/>
<line x1="456.1" y1="571.5" x2="460.5" y2="571.5" stroke="#000" stroke-width="1.2"/>
<text x="467.3" y="575.4" font-size="11.2" font-family="Liberation Sans, sans-serif">0.00</text>
<line x1="456.1" y1="565.6" x2="458.6" y2="565.6" stroke="#000" stroke-width="1"/>
<line x1="456.1" y1="559.8" x2="458.6" y2="559.8" stroke="#000" stroke-width="1"/>
<line x1="456.1" y1="554.0" x2="460.5" y2="554.0" stroke="#000" stroke-width="1.2"/>
<text x="467.3" y="557.9" font-size="11.2" font-family="Liberation Sans, sans-serif">0.03</text>
<line x1="456.1" y1="548.1" x2="458.6" y2="548.1" stroke="#000" stroke-width="1"/>
<line x1="456.1" y1="542.2" x2="458.6" y2="542.2" stroke="#000" stroke-width="1"/>
<line x1="456.1" y1="536.4" x2="460.5" y2="536.4" stroke="#000" stroke-width="1.2"/>
<text x="467.3" y="540.3" font-size="11.2" font-family="Liberation Sans, sans-serif">0.06</text>
<line x1="456.1" y1="530.5" x2="458.6" y2="530.5" stroke="#000" stroke-width="1"/>
<line x1="456.1" y1="524.7" x2="458.6" y2="524.7" stroke="#000" stroke-width="1"/>
<line x1="456.1" y1="518.9" x2="460.5" y2="518.9" stroke="#000" stroke-width="1.2"/>
<text x="467.3" y="522.8" font-size="11.2" font-family="Liberation Sans, sans-serif">0.09</text>
<line x1="456.1" y1="513.0" x2="458.6" y2="513.0" stroke="#000" stroke-width="1"/>
<line x1="456.1" y1="507.1" x2="458.6" y2="507.1" stroke="#000" stroke-width="1"/>
<line x1="456.1" y1="501.3" x2="460.5" y2="501.3" stroke="#000" stroke-width="1.2"/>
<text x="467.3" y="505.2" font-size="11.2" font-family="Liberation Sans, sans-serif">0.12</text>
<line x1="456.1" y1="495.4" x2="458.6" y2="495.4" stroke="#000" stroke-width="1"/>
<line x1="456.1" y1="489.6" x2="458.6" y2="489.6" stroke="#000" stroke-width="1"/>
<line x1="456.1" y1="483.8" x2="460.5" y2="483.8" stroke="#000" stroke-width="1.2"/>
<text x="467.3" y="487.6" font-size="11.2" font-family="Liberation Sans, sans-serif">0.15</text>
<line x1="456.1" y1="477.9" x2="458.6" y2="477.9" stroke="#000" stroke-width="1"/>
<line x1="456.1" y1="472.1" x2="458.6" y2="472.1" stroke="#000" stroke-width="1"/>
<line x1="456.1" y1="466.2" x2="460.5" y2="466.2" stroke="#000" stroke-width="1.2"/>
<text x="467.3" y="470.1" font-size="11.2" font-family="Liberation Sans, sans-serif">0.18</text>
<line x1="456.1" y1="460.3" x2="458.6" y2="460.3" stroke="#000" stroke-width="1"/>
<line x1="456.1" y1="454.5" x2="458.6" y2="454.5" stroke="#000" stroke-width="1"/>
<text transform="translate(503,513.6) rotate(-90)" text-anchor="middle" font-size="14.4" font-family="Liberation Sans, sans-serif">Linear trend</text>
<text transform="translate(516.5,511.5) rotate(-90)" text-anchor="middle" font-size="14.1" font-family="Liberation Sans, sans-serif">(mm d<tspan font-size="9" dy="-5">-1</tspan><tspan dy="5"> dec</tspan><tspan font-size="9" dy="-5">-1</tspan><tspan dy="5">)</tspan></text>
<circle cx="411.8" cy="488.8" r="4.3" fill="none" stroke="#000000" stroke-width="1.9"/>
<circle cx="412.6" cy="502.5" r="4.3" fill="none" stroke="#0000ff" stroke-width="1.9"/>
<circle cx="413.6" cy="510.2" r="4.3" fill="none" stroke="#33e8f0" stroke-width="1.9"/>
<circle cx="411.2" cy="518" r="4.3" fill="none" stroke="#ff0000" stroke-width="1.9"/>
<circle cx="416.8" cy="517.6" r="4.3" fill="none" stroke="#228b22" stroke-width="1.9"/>
<circle cx="413.6" cy="519" r="4.3" fill="none" stroke="#ffa500" stroke-width="1.9"/>
<circle cx="412.6" cy="527.1" r="4.3" fill="none" stroke="#a033f0" stroke-width="1.9"/>
<circle cx="408.5" cy="536.4" r="4.3" fill="none" stroke="#6e6e6e" stroke-width="1.9"/>
<path d="M428.6,482.9 L437.2,482.9 L432.9,475.0 Z" fill="none" stroke="#000000" stroke-width="1.8" stroke-linejoin="miter"/>
<path d="M425.9,499.0 L434.5,499.0 L430.2,491.1 Z" fill="none" stroke="#6e6e6e" stroke-width="1.8" stroke-linejoin="miter"/>
<path d="M429.7,500.1 L438.3,500.1 L434.0,492.2 Z" fill="none" stroke="#0000ff" stroke-width="1.8" stroke-linejoin="miter"/>
<path d="M434.7,506.1 L443.3,506.1 L439.0,498.2 Z" fill="none" stroke="#228b22" stroke-width="1.8" stroke-linejoin="miter"/>
<path d="M429.5,509.1 L438.1,509.1 L433.8,501.2 Z" fill="none" stroke="#ff0000" stroke-width="1.8" stroke-linejoin="miter"/>
</svg></body></html>
